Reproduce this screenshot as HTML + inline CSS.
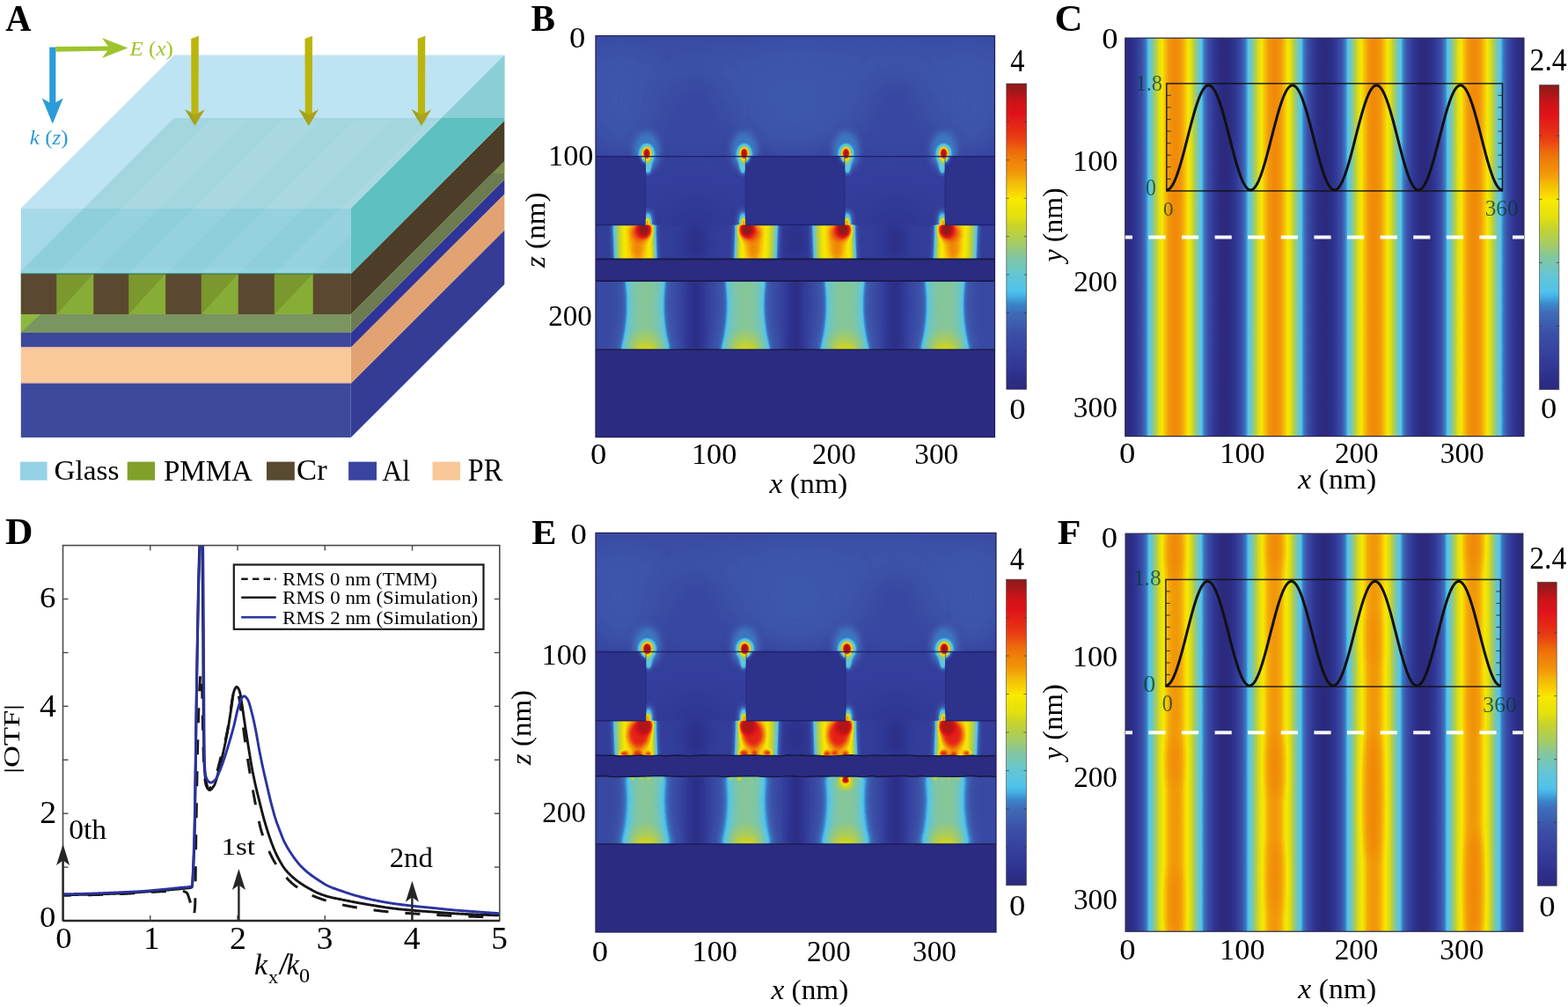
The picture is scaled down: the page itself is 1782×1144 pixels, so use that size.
<!DOCTYPE html><html><head><meta charset="utf-8"><title>Figure</title><style>html,body{margin:0;padding:0;background:#fff;}svg{display:block;}</style></head><body><svg width="1782" height="1144" viewBox="0 0 1782 1144" font-family="Liberation Serif"><defs><filter id="jet" x="0" y="0" width="1" height="1" color-interpolation-filters="sRGB"><feComponentTransfer><feFuncR type="table" tableValues="0.169 0.172 0.175 0.178 0.182 0.189 0.197 0.204 0.211 0.217 0.223 0.229 0.235 0.237 0.240 0.242 0.241 0.234 0.229 0.261 0.293 0.323 0.353 0.383 0.413 0.443 0.473 0.508 0.548 0.587 0.630 0.678 0.725 0.770 0.810 0.850 0.889 0.916 0.943 0.970 0.976 0.969 0.962 0.956 0.950 0.947 0.944 0.942 0.937 0.932 0.927 0.921 0.914 0.906 0.899 0.891 0.884 0.868 0.833 0.798 0.758 0.688 0.619 0.549"/><feFuncG type="table" tableValues="0.165 0.175 0.185 0.196 0.207 0.219 0.232 0.244 0.258 0.274 0.290 0.306 0.322 0.347 0.372 0.397 0.433 0.505 0.576 0.662 0.747 0.765 0.770 0.775 0.776 0.776 0.776 0.779 0.784 0.789 0.796 0.806 0.816 0.828 0.845 0.863 0.879 0.891 0.902 0.913 0.875 0.808 0.745 0.689 0.633 0.592 0.552 0.512 0.461 0.406 0.351 0.300 0.250 0.200 0.158 0.126 0.093 0.071 0.074 0.076 0.080 0.087 0.094 0.102"/><feFuncB type="table" tableValues="0.494 0.513 0.531 0.550 0.568 0.582 0.597 0.611 0.624 0.632 0.641 0.650 0.659 0.676 0.693 0.709 0.733 0.779 0.826 0.879 0.933 0.914 0.882 0.849 0.801 0.747 0.692 0.630 0.563 0.496 0.423 0.341 0.259 0.185 0.141 0.096 0.053 0.038 0.022 0.006 0.007 0.017 0.026 0.032 0.039 0.037 0.034 0.032 0.039 0.049 0.059 0.067 0.075 0.082 0.089 0.093 0.098 0.101 0.099 0.096 0.094 0.097 0.099 0.102"/></feComponentTransfer></filter><linearGradient id="pBglass" x1="0" y1="0" x2="0" y2="1"><stop offset="0" stop-color="#2a2a2a"/><stop offset="0.3" stop-color="#323232"/><stop offset="0.65" stop-color="#2e2e2e"/><stop offset="1" stop-color="#222222"/></linearGradient><filter id="b22" x="-200%" y="-200%" width="500%" height="500%" color-interpolation-filters="sRGB"><feGaussianBlur stdDeviation="22"/></filter><filter id="b14" x="-200%" y="-200%" width="500%" height="500%" color-interpolation-filters="sRGB"><feGaussianBlur stdDeviation="14"/></filter><linearGradient id="pBopen" x1="0" y1="0" x2="0" y2="1"><stop offset="0" stop-color="#202020"/><stop offset="1" stop-color="#181818"/></linearGradient><filter id="b9" x="-200%" y="-200%" width="500%" height="500%" color-interpolation-filters="sRGB"><feGaussianBlur stdDeviation="9"/></filter><filter id="b7" x="-200%" y="-200%" width="500%" height="500%" color-interpolation-filters="sRGB"><feGaussianBlur stdDeviation="7"/></filter><clipPath id="pBprc"><rect x="677" y="319.3" width="453.5" height="77.9"/></clipPath><clipPath id="pBpmc"><rect x="677" y="255.5" width="453.5" height="38.9"/></clipPath><filter id="b6" x="-200%" y="-200%" width="500%" height="500%" color-interpolation-filters="sRGB"><feGaussianBlur stdDeviation="6"/></filter><filter id="b2_6" x="-200%" y="-200%" width="500%" height="500%" color-interpolation-filters="sRGB"><feGaussianBlur stdDeviation="2.6"/></filter><filter id="b4" x="-200%" y="-200%" width="500%" height="500%" color-interpolation-filters="sRGB"><feGaussianBlur stdDeviation="4"/></filter><filter id="b5" x="-200%" y="-200%" width="500%" height="500%" color-interpolation-filters="sRGB"><feGaussianBlur stdDeviation="5"/></filter><filter id="b3" x="-200%" y="-200%" width="500%" height="500%" color-interpolation-filters="sRGB"><feGaussianBlur stdDeviation="3"/></filter><filter id="b1_5" x="-200%" y="-200%" width="500%" height="500%" color-interpolation-filters="sRGB"><feGaussianBlur stdDeviation="1.5"/></filter><filter id="b2" x="-200%" y="-200%" width="500%" height="500%" color-interpolation-filters="sRGB"><feGaussianBlur stdDeviation="2"/></filter><filter id="b1_1" x="-200%" y="-200%" width="500%" height="500%" color-interpolation-filters="sRGB"><feGaussianBlur stdDeviation="1.1"/></filter><clipPath id="pBclip"><rect x="677" y="40.7" width="453.5" height="455.9"/></clipPath><linearGradient id="pEglass" x1="0" y1="0" x2="0" y2="1"><stop offset="0" stop-color="#2a2a2a"/><stop offset="0.3" stop-color="#323232"/><stop offset="0.65" stop-color="#2e2e2e"/><stop offset="1" stop-color="#222222"/></linearGradient><linearGradient id="pEopen" x1="0" y1="0" x2="0" y2="1"><stop offset="0" stop-color="#202020"/><stop offset="1" stop-color="#181818"/></linearGradient><clipPath id="pEprc"><rect x="677" y="882" width="455" height="76.9"/></clipPath><clipPath id="pEpmc"><rect x="677" y="818.7" width="455" height="39.7"/></clipPath><filter id="b1_3" x="-200%" y="-200%" width="500%" height="500%" color-interpolation-filters="sRGB"><feGaussianBlur stdDeviation="1.3"/></filter><filter id="b1_8" x="-200%" y="-200%" width="500%" height="500%" color-interpolation-filters="sRGB"><feGaussianBlur stdDeviation="1.8"/></filter><filter id="b2_2" x="-200%" y="-200%" width="500%" height="500%" color-interpolation-filters="sRGB"><feGaussianBlur stdDeviation="2.2"/></filter><filter id="b1_2" x="-200%" y="-200%" width="500%" height="500%" color-interpolation-filters="sRGB"><feGaussianBlur stdDeviation="1.2"/></filter><clipPath id="pEclip"><rect x="677" y="605.4" width="455" height="453.6"/></clipPath><linearGradient id="cbBcb" x1="0" y1="0" x2="0" y2="1"><stop offset="0" stop-color="#8c1a1a"/><stop offset="0.03" stop-color="#a81719"/><stop offset="0.05" stop-color="#c41418"/><stop offset="0.07" stop-color="#d21319"/><stop offset="0.1" stop-color="#e0121a"/><stop offset="0.12" stop-color="#e31f18"/><stop offset="0.15" stop-color="#e62c16"/><stop offset="0.18" stop-color="#e94013"/><stop offset="0.2" stop-color="#ec5410"/><stop offset="0.22" stop-color="#ee6a0c"/><stop offset="0.25" stop-color="#f08008"/><stop offset="0.28" stop-color="#f19009"/><stop offset="0.3" stop-color="#f2a00a"/><stop offset="0.32" stop-color="#f4b608"/><stop offset="0.35" stop-color="#f7cf04"/><stop offset="0.38" stop-color="#faea00"/><stop offset="0.4" stop-color="#efe506"/><stop offset="0.43" stop-color="#e4e10d"/><stop offset="0.45" stop-color="#d5da1c"/><stop offset="0.47" stop-color="#c5d32e"/><stop offset="0.5" stop-color="#b3cf4c"/><stop offset="0.53" stop-color="#a0cb6d"/><stop offset="0.55" stop-color="#8fc88a"/><stop offset="0.57" stop-color="#7fc6a5"/><stop offset="0.6" stop-color="#72c6bc"/><stop offset="0.62" stop-color="#66c6d2"/><stop offset="0.65" stop-color="#5ac4e0"/><stop offset="0.68" stop-color="#4ec2ed"/><stop offset="0.7" stop-color="#42a7df"/><stop offset="0.72" stop-color="#3b87cb"/><stop offset="0.75" stop-color="#3e6ab8"/><stop offset="0.78" stop-color="#3d60b1"/><stop offset="0.8" stop-color="#3c56ab"/><stop offset="0.82" stop-color="#3a4ea6"/><stop offset="0.85" stop-color="#3848a2"/><stop offset="0.88" stop-color="#36419f"/><stop offset="0.9" stop-color="#333c99"/><stop offset="0.93" stop-color="#303794"/><stop offset="0.95" stop-color="#2e328d"/><stop offset="0.97" stop-color="#2c2e86"/><stop offset="1" stop-color="#2b2a7e"/></linearGradient><linearGradient id="cbEcb" x1="0" y1="0" x2="0" y2="1"><stop offset="0" stop-color="#8c1a1a"/><stop offset="0.03" stop-color="#a81719"/><stop offset="0.05" stop-color="#c41418"/><stop offset="0.07" stop-color="#d21319"/><stop offset="0.1" stop-color="#e0121a"/><stop offset="0.12" stop-color="#e31f18"/><stop offset="0.15" stop-color="#e62c16"/><stop offset="0.18" stop-color="#e94013"/><stop offset="0.2" stop-color="#ec5410"/><stop offset="0.22" stop-color="#ee6a0c"/><stop offset="0.25" stop-color="#f08008"/><stop offset="0.28" stop-color="#f19009"/><stop offset="0.3" stop-color="#f2a00a"/><stop offset="0.32" stop-color="#f4b608"/><stop offset="0.35" stop-color="#f7cf04"/><stop offset="0.38" stop-color="#faea00"/><stop offset="0.4" stop-color="#efe506"/><stop offset="0.43" stop-color="#e4e10d"/><stop offset="0.45" stop-color="#d5da1c"/><stop offset="0.47" stop-color="#c5d32e"/><stop offset="0.5" stop-color="#b3cf4c"/><stop offset="0.53" stop-color="#a0cb6d"/><stop offset="0.55" stop-color="#8fc88a"/><stop offset="0.57" stop-color="#7fc6a5"/><stop offset="0.6" stop-color="#72c6bc"/><stop offset="0.62" stop-color="#66c6d2"/><stop offset="0.65" stop-color="#5ac4e0"/><stop offset="0.68" stop-color="#4ec2ed"/><stop offset="0.7" stop-color="#42a7df"/><stop offset="0.72" stop-color="#3b87cb"/><stop offset="0.75" stop-color="#3e6ab8"/><stop offset="0.78" stop-color="#3d60b1"/><stop offset="0.8" stop-color="#3c56ab"/><stop offset="0.82" stop-color="#3a4ea6"/><stop offset="0.85" stop-color="#3848a2"/><stop offset="0.88" stop-color="#36419f"/><stop offset="0.9" stop-color="#333c99"/><stop offset="0.93" stop-color="#303794"/><stop offset="0.95" stop-color="#2e328d"/><stop offset="0.97" stop-color="#2c2e86"/><stop offset="1" stop-color="#2b2a7e"/></linearGradient><linearGradient id="pCst" gradientUnits="userSpaceOnUse" x1="1278.8" y1="0" x2="1392.08" y2="0" spreadMethod="repeat"><stop offset="0" stop-color="#2b2a7e"/><stop offset="0.02" stop-color="#2b2a7f"/><stop offset="0.03" stop-color="#2b2b80"/><stop offset="0.05" stop-color="#2c2d83"/><stop offset="0.07" stop-color="#2d2f88"/><stop offset="0.08" stop-color="#2d328d"/><stop offset="0.1" stop-color="#2f3692"/><stop offset="0.12" stop-color="#323b98"/><stop offset="0.13" stop-color="#35409e"/><stop offset="0.15" stop-color="#3848a2"/><stop offset="0.17" stop-color="#3b50a7"/><stop offset="0.18" stop-color="#3d5daf"/><stop offset="0.2" stop-color="#3e6ebb"/><stop offset="0.22" stop-color="#3d9ad7"/><stop offset="0.23" stop-color="#50c3eb"/><stop offset="0.25" stop-color="#63c6d7"/><stop offset="0.27" stop-color="#75c6b6"/><stop offset="0.28" stop-color="#8bc890"/><stop offset="0.3" stop-color="#a4cc65"/><stop offset="0.32" stop-color="#c0d236"/><stop offset="0.33" stop-color="#d6db1c"/><stop offset="0.35" stop-color="#e8e20b"/><stop offset="0.37" stop-color="#f5e803"/><stop offset="0.38" stop-color="#f8d903"/><stop offset="0.4" stop-color="#f6c006"/><stop offset="0.42" stop-color="#f3ad09"/><stop offset="0.43" stop-color="#f29e0a"/><stop offset="0.45" stop-color="#f19509"/><stop offset="0.47" stop-color="#f18f09"/><stop offset="0.48" stop-color="#f18b09"/><stop offset="0.5" stop-color="#f18a09"/><stop offset="0.52" stop-color="#f18b09"/><stop offset="0.53" stop-color="#f18f09"/><stop offset="0.55" stop-color="#f19509"/><stop offset="0.57" stop-color="#f29e0a"/><stop offset="0.58" stop-color="#f3ad09"/><stop offset="0.6" stop-color="#f6c006"/><stop offset="0.62" stop-color="#f8d903"/><stop offset="0.63" stop-color="#f5e803"/><stop offset="0.65" stop-color="#e8e20b"/><stop offset="0.67" stop-color="#d6db1b"/><stop offset="0.68" stop-color="#c0d236"/><stop offset="0.7" stop-color="#a4cc65"/><stop offset="0.72" stop-color="#8bc890"/><stop offset="0.73" stop-color="#75c6b6"/><stop offset="0.75" stop-color="#63c6d7"/><stop offset="0.77" stop-color="#50c3eb"/><stop offset="0.78" stop-color="#3d9ad7"/><stop offset="0.8" stop-color="#3e6ebb"/><stop offset="0.82" stop-color="#3d5daf"/><stop offset="0.83" stop-color="#3b50a7"/><stop offset="0.85" stop-color="#3848a2"/><stop offset="0.87" stop-color="#35409e"/><stop offset="0.88" stop-color="#323b98"/><stop offset="0.9" stop-color="#2f3692"/><stop offset="0.92" stop-color="#2d328d"/><stop offset="0.93" stop-color="#2d2f88"/><stop offset="0.95" stop-color="#2c2d83"/><stop offset="0.97" stop-color="#2b2b80"/><stop offset="0.98" stop-color="#2b2a7f"/><stop offset="1" stop-color="#2b2a7e"/></linearGradient><linearGradient id="pFst" gradientUnits="userSpaceOnUse" x1="1279.1" y1="0" x2="1392.02" y2="0" spreadMethod="repeat"><stop offset="0" stop-color="#2b2a7e"/><stop offset="0.02" stop-color="#2b2a7f"/><stop offset="0.03" stop-color="#2b2b80"/><stop offset="0.05" stop-color="#2c2d83"/><stop offset="0.07" stop-color="#2d2f87"/><stop offset="0.08" stop-color="#2d328c"/><stop offset="0.1" stop-color="#2f3692"/><stop offset="0.12" stop-color="#323a97"/><stop offset="0.13" stop-color="#35409d"/><stop offset="0.15" stop-color="#3847a2"/><stop offset="0.17" stop-color="#3b4fa6"/><stop offset="0.18" stop-color="#3d5aae"/><stop offset="0.2" stop-color="#3e68b7"/><stop offset="0.22" stop-color="#3a8fd0"/><stop offset="0.23" stop-color="#4bc0ef"/><stop offset="0.25" stop-color="#5dc5dd"/><stop offset="0.27" stop-color="#6fc6c2"/><stop offset="0.28" stop-color="#82c79f"/><stop offset="0.3" stop-color="#99ca78"/><stop offset="0.32" stop-color="#b3cf4b"/><stop offset="0.33" stop-color="#cbd628"/><stop offset="0.35" stop-color="#dfdf11"/><stop offset="0.37" stop-color="#ede408"/><stop offset="0.38" stop-color="#f8e901"/><stop offset="0.4" stop-color="#f8d503"/><stop offset="0.42" stop-color="#f6c006"/><stop offset="0.43" stop-color="#f4b108"/><stop offset="0.45" stop-color="#f3a509"/><stop offset="0.47" stop-color="#f29d0a"/><stop offset="0.48" stop-color="#f29a0a"/><stop offset="0.5" stop-color="#f2980a"/><stop offset="0.52" stop-color="#f29a0a"/><stop offset="0.53" stop-color="#f29d0a"/><stop offset="0.55" stop-color="#f3a509"/><stop offset="0.57" stop-color="#f4b108"/><stop offset="0.58" stop-color="#f6c006"/><stop offset="0.6" stop-color="#f8d503"/><stop offset="0.62" stop-color="#f8e901"/><stop offset="0.63" stop-color="#ede408"/><stop offset="0.65" stop-color="#dfdf11"/><stop offset="0.67" stop-color="#cbd628"/><stop offset="0.68" stop-color="#b3cf4b"/><stop offset="0.7" stop-color="#99ca78"/><stop offset="0.72" stop-color="#82c79f"/><stop offset="0.73" stop-color="#6fc6c2"/><stop offset="0.75" stop-color="#5dc5dd"/><stop offset="0.77" stop-color="#4bc0ef"/><stop offset="0.78" stop-color="#3a8fd0"/><stop offset="0.8" stop-color="#3e68b7"/><stop offset="0.82" stop-color="#3d5aae"/><stop offset="0.83" stop-color="#3b4fa6"/><stop offset="0.85" stop-color="#3847a2"/><stop offset="0.87" stop-color="#35409d"/><stop offset="0.88" stop-color="#323a97"/><stop offset="0.9" stop-color="#2f3692"/><stop offset="0.92" stop-color="#2d328c"/><stop offset="0.93" stop-color="#2d2f87"/><stop offset="0.95" stop-color="#2c2d83"/><stop offset="0.97" stop-color="#2b2b80"/><stop offset="0.98" stop-color="#2b2a7f"/><stop offset="1" stop-color="#2b2a7e"/></linearGradient><linearGradient id="pFgs" gradientUnits="userSpaceOnUse" x1="1279.1" y1="0" x2="1392.02" y2="0" spreadMethod="repeat"><stop offset="0" stop-color="#000000"/><stop offset="0.02" stop-color="#000000"/><stop offset="0.03" stop-color="#020202"/><stop offset="0.05" stop-color="#040404"/><stop offset="0.07" stop-color="#080808"/><stop offset="0.08" stop-color="#0c0c0c"/><stop offset="0.1" stop-color="#111111"/><stop offset="0.12" stop-color="#171717"/><stop offset="0.13" stop-color="#1e1e1e"/><stop offset="0.15" stop-color="#252525"/><stop offset="0.17" stop-color="#2d2d2d"/><stop offset="0.18" stop-color="#363636"/><stop offset="0.2" stop-color="#3f3f3f"/><stop offset="0.22" stop-color="#484848"/><stop offset="0.23" stop-color="#515151"/><stop offset="0.25" stop-color="#5b5b5b"/><stop offset="0.27" stop-color="#646464"/><stop offset="0.28" stop-color="#6e6e6e"/><stop offset="0.3" stop-color="#777777"/><stop offset="0.32" stop-color="#808080"/><stop offset="0.33" stop-color="#888888"/><stop offset="0.35" stop-color="#909090"/><stop offset="0.37" stop-color="#989898"/><stop offset="0.38" stop-color="#9e9e9e"/><stop offset="0.4" stop-color="#a4a4a4"/><stop offset="0.42" stop-color="#a9a9a9"/><stop offset="0.43" stop-color="#aeaeae"/><stop offset="0.45" stop-color="#b1b1b1"/><stop offset="0.47" stop-color="#b4b4b4"/><stop offset="0.48" stop-color="#b5b5b5"/><stop offset="0.5" stop-color="#b6b6b6"/><stop offset="0.52" stop-color="#b5b5b5"/><stop offset="0.53" stop-color="#b4b4b4"/><stop offset="0.55" stop-color="#b1b1b1"/><stop offset="0.57" stop-color="#aeaeae"/><stop offset="0.58" stop-color="#a9a9a9"/><stop offset="0.6" stop-color="#a4a4a4"/><stop offset="0.62" stop-color="#9e9e9e"/><stop offset="0.63" stop-color="#989898"/><stop offset="0.65" stop-color="#909090"/><stop offset="0.67" stop-color="#888888"/><stop offset="0.68" stop-color="#808080"/><stop offset="0.7" stop-color="#777777"/><stop offset="0.72" stop-color="#6e6e6e"/><stop offset="0.73" stop-color="#646464"/><stop offset="0.75" stop-color="#5b5b5b"/><stop offset="0.77" stop-color="#515151"/><stop offset="0.78" stop-color="#484848"/><stop offset="0.8" stop-color="#3f3f3f"/><stop offset="0.82" stop-color="#363636"/><stop offset="0.83" stop-color="#2d2d2d"/><stop offset="0.85" stop-color="#252525"/><stop offset="0.87" stop-color="#1e1e1e"/><stop offset="0.88" stop-color="#171717"/><stop offset="0.9" stop-color="#111111"/><stop offset="0.92" stop-color="#0c0c0c"/><stop offset="0.93" stop-color="#080808"/><stop offset="0.95" stop-color="#040404"/><stop offset="0.97" stop-color="#020202"/><stop offset="0.98" stop-color="#000000"/><stop offset="1" stop-color="#000000"/></linearGradient><clipPath id="pFclip"><rect x="1279.1" y="606.2" width="451.7" height="452"/></clipPath><linearGradient id="cbCcb" x1="0" y1="0" x2="0" y2="1"><stop offset="0" stop-color="#8c1a1a"/><stop offset="0.03" stop-color="#a81719"/><stop offset="0.05" stop-color="#c41418"/><stop offset="0.07" stop-color="#d21319"/><stop offset="0.1" stop-color="#e0121a"/><stop offset="0.12" stop-color="#e31f18"/><stop offset="0.15" stop-color="#e62c16"/><stop offset="0.18" stop-color="#e94013"/><stop offset="0.2" stop-color="#ec5410"/><stop offset="0.22" stop-color="#ee6a0c"/><stop offset="0.25" stop-color="#f08008"/><stop offset="0.28" stop-color="#f19009"/><stop offset="0.3" stop-color="#f2a00a"/><stop offset="0.32" stop-color="#f4b608"/><stop offset="0.35" stop-color="#f7cf04"/><stop offset="0.38" stop-color="#faea00"/><stop offset="0.4" stop-color="#efe506"/><stop offset="0.43" stop-color="#e4e10d"/><stop offset="0.45" stop-color="#d5da1c"/><stop offset="0.47" stop-color="#c5d32e"/><stop offset="0.5" stop-color="#b3cf4c"/><stop offset="0.53" stop-color="#a0cb6d"/><stop offset="0.55" stop-color="#8fc88a"/><stop offset="0.57" stop-color="#7fc6a5"/><stop offset="0.6" stop-color="#72c6bc"/><stop offset="0.62" stop-color="#66c6d2"/><stop offset="0.65" stop-color="#5ac4e0"/><stop offset="0.68" stop-color="#4ec2ed"/><stop offset="0.7" stop-color="#42a7df"/><stop offset="0.72" stop-color="#3b87cb"/><stop offset="0.75" stop-color="#3e6ab8"/><stop offset="0.78" stop-color="#3d60b1"/><stop offset="0.8" stop-color="#3c56ab"/><stop offset="0.82" stop-color="#3a4ea6"/><stop offset="0.85" stop-color="#3848a2"/><stop offset="0.88" stop-color="#36419f"/><stop offset="0.9" stop-color="#333c99"/><stop offset="0.93" stop-color="#303794"/><stop offset="0.95" stop-color="#2e328d"/><stop offset="0.97" stop-color="#2c2e86"/><stop offset="1" stop-color="#2b2a7e"/></linearGradient><linearGradient id="cbFcb" x1="0" y1="0" x2="0" y2="1"><stop offset="0" stop-color="#8c1a1a"/><stop offset="0.03" stop-color="#a81719"/><stop offset="0.05" stop-color="#c41418"/><stop offset="0.07" stop-color="#d21319"/><stop offset="0.1" stop-color="#e0121a"/><stop offset="0.12" stop-color="#e31f18"/><stop offset="0.15" stop-color="#e62c16"/><stop offset="0.18" stop-color="#e94013"/><stop offset="0.2" stop-color="#ec5410"/><stop offset="0.22" stop-color="#ee6a0c"/><stop offset="0.25" stop-color="#f08008"/><stop offset="0.28" stop-color="#f19009"/><stop offset="0.3" stop-color="#f2a00a"/><stop offset="0.32" stop-color="#f4b608"/><stop offset="0.35" stop-color="#f7cf04"/><stop offset="0.38" stop-color="#faea00"/><stop offset="0.4" stop-color="#efe506"/><stop offset="0.43" stop-color="#e4e10d"/><stop offset="0.45" stop-color="#d5da1c"/><stop offset="0.47" stop-color="#c5d32e"/><stop offset="0.5" stop-color="#b3cf4c"/><stop offset="0.53" stop-color="#a0cb6d"/><stop offset="0.55" stop-color="#8fc88a"/><stop offset="0.57" stop-color="#7fc6a5"/><stop offset="0.6" stop-color="#72c6bc"/><stop offset="0.62" stop-color="#66c6d2"/><stop offset="0.65" stop-color="#5ac4e0"/><stop offset="0.68" stop-color="#4ec2ed"/><stop offset="0.7" stop-color="#42a7df"/><stop offset="0.72" stop-color="#3b87cb"/><stop offset="0.75" stop-color="#3e6ab8"/><stop offset="0.78" stop-color="#3d60b1"/><stop offset="0.8" stop-color="#3c56ab"/><stop offset="0.82" stop-color="#3a4ea6"/><stop offset="0.85" stop-color="#3848a2"/><stop offset="0.88" stop-color="#36419f"/><stop offset="0.9" stop-color="#333c99"/><stop offset="0.93" stop-color="#303794"/><stop offset="0.95" stop-color="#2e328d"/><stop offset="0.97" stop-color="#2c2e86"/><stop offset="1" stop-color="#2b2a7e"/></linearGradient><clipPath id="dclip"><rect x="71.5" y="619.6" width="496.3" height="426.4"/></clipPath></defs><rect width="1782" height="1144" fill="#fff"/><g id="panelA"><polygon points="398.8,435.5 573.3,261.5 573.3,323 398.8,497" fill="#343c96" />
<polygon points="398.8,394.5 573.3,220.5 573.3,261.5 398.8,435.5" fill="#e2a272" />
<polygon points="398.8,378 573.3,204 573.3,220.5 398.8,394.5" fill="#2f3597" />
<polygon points="398.8,357 573.3,183 573.3,204 398.8,378" fill="#6c7b50" />
<polygon points="533.3,183 573.3,183 573.3,197 547.3,197" fill="#8a9a45" opacity="0.55"/>
<polygon points="398.8,311 573.3,137 573.3,183 398.8,357" fill="#4b3d27" />
<polygon points="398.8,236.5 573.3,62.5 573.3,137 398.8,311" fill="#5ec0c1" />
<polygon points="501.3,134 573.3,62.5 573.3,134" fill="#8bcfd6" />
<polygon points="23.8,236.5 198.3,62.5 573.3,62.5 398.8,236.5" fill="#bee3f2" />
<polygon points="95.3,236.5 197.8,134 501.3,134 398.8,236.5" fill="#a3d6df" />
<rect x="23.8" y="236.5" width="375" height="74.5" fill="#a7dae8"/>
<polygon points="95.3,236.5 398.8,236.5 398.8,311 23.8,311 23.8,308" fill="#8ecfdb" />
<rect x="23.8" y="305" width="375" height="5" fill="#93d5e3" opacity="0.7"/>
<clipPath id="glassTeal"><polygon points="95.3,236.5 197.8,134 501.3,134 398.8,236.5 398.8,311 23.8,311 23.8,308"/></clipPath>
<g clip-path="url(#glassTeal)" opacity="0.07"><polygon points="64.2,311 106.3,311 280.8,137 238.7,137" fill="#ffffff" /><polygon points="146.2,311 188.2,311 362.7,137 320.7,137" fill="#ffffff" /><polygon points="228.8,311 270.8,311 445.3,137 403.3,137" fill="#ffffff" /><polygon points="311.8,311 355.8,311 530.3,137 486.3,137" fill="#ffffff" /></g>
<rect x="23.8" y="311" width="375" height="46" fill="#7a982d"/>
<polygon points="106.3,311 106.3,357 64.2,357" fill="#88ad37" />
<polygon points="188.2,311 188.2,357 146.2,357" fill="#88ad37" />
<polygon points="270.8,311 270.8,357 228.8,357" fill="#88ad37" />
<polygon points="355.8,311 355.8,357 311.8,357" fill="#88ad37" />
<rect x="23.8" y="311" width="40.4" height="46" fill="#5a4930"/>
<rect x="106.3" y="311" width="39.9" height="46" fill="#5a4930"/>
<rect x="188.2" y="311" width="40.6" height="46" fill="#5a4930"/>
<rect x="270.8" y="311" width="41" height="46" fill="#5a4930"/>
<rect x="355.8" y="311" width="43" height="46" fill="#5a4930"/>
<rect x="23.8" y="310.4" width="375" height="1.2" fill="#2f6a55" opacity="0.8"/>
<rect x="23.8" y="357" width="375" height="21" fill="#7a9560"/>
<polygon points="23.8,357 45.8,357 23.8,378" fill="#8db840" />
<rect x="23.8" y="378" width="375" height="16.5" fill="#3c4899"/>
<rect x="23.8" y="394.5" width="375" height="41" fill="#f8c99a"/>
<rect x="23.8" y="394.5" width="375" height="1" fill="#f4a3b4" opacity="0.8"/>
<rect x="23.8" y="434.5" width="375" height="1" fill="#f4a3b4" opacity="0.8"/>
<rect x="23.8" y="435.5" width="375" height="61.5" fill="#3d4a9b"/>
<rect x="56.2" y="53.6" width="7.2" height="70" fill="#2b9bd9"/>
<polygon points="59.8,140.8 47.7,111.5 59.8,118.5 71.7,111.5" fill="#2b9bd9" />
<polygon points="63.2,53 128,52.4 128,57.4 63.2,58.8" fill="#9dc42a" />
<polygon points="145.4,54.4 115.9,43.1 124.4,54.8 115.9,66" fill="#9dc42a" />
<polygon points="217.2,44 225.8,40.8 225.5,133 217.5,133" fill="#bbb60c" />
<polygon points="221.5,143 210.2,124.2 221.5,130.5 232.8,124.2" fill="#aba31a" />
<polygon points="221.5,143 210.2,124.2 216.5,127" fill="#8fa424" opacity="0.5"/>
<polygon points="346.5,44 355.1,40.8 354.8,133 346.8,133" fill="#bbb60c" />
<polygon points="350.8,143 339.5,124.2 350.8,130.5 362.1,124.2" fill="#aba31a" />
<polygon points="350.8,143 339.5,124.2 345.8,127" fill="#8fa424" opacity="0.5"/>
<polygon points="474.7,44 483.3,40.8 483,133 475,133" fill="#bbb60c" />
<polygon points="479,143 467.7,124.2 479,130.5 490.3,124.2" fill="#aba31a" />
<polygon points="479,143 467.7,124.2 474,127" fill="#8fa424" opacity="0.5"/>
<rect x="23" y="524.6" width="30.6" height="21" fill="#96d2e6"/>
<rect x="144.7" y="524.6" width="31.3" height="21" fill="#80a02a"/>
<rect x="303" y="524.6" width="31.8" height="21" fill="#574a30"/>
<rect x="396.1" y="524.6" width="31.9" height="21" fill="#3a44a0"/>
<rect x="491.5" y="524.6" width="31.5" height="21" fill="#f8c898"/></g>
<g id="pB"><g clip-path="url(#pBclip)"><g filter="url(#jet)"><rect x="675" y="38.7" width="457.5" height="459.9" fill="#1a1a1a" /><rect x="677" y="40.7" width="453.5" height="138.1" fill="url(#pBglass)" /><ellipse cx="963.75" cy="95.7" rx="170" ry="40" fill="#343434" filter="url(#b22)"/><ellipse cx="705.25" cy="114.25" rx="32.25" ry="58.55" fill="#343434" filter="url(#b14)"/><ellipse cx="903.65" cy="114.25" rx="60.35" ry="58.55" fill="#343434" filter="url(#b14)"/><ellipse cx="1102.25" cy="114.25" rx="32.25" ry="58.55" fill="#343434" filter="url(#b14)"/><ellipse cx="790.4" cy="134.25" rx="30" ry="48.55" fill="#262626" filter="url(#b14)"/><ellipse cx="1017" cy="134.25" rx="30" ry="48.55" fill="#262626" filter="url(#b14)"/><rect x="677" y="177.8" width="453.5" height="78.7" fill="url(#pBopen)" /><ellipse cx="790.4" cy="249.5" rx="26" ry="24" fill="#161616" filter="url(#b9)"/><ellipse cx="1017" cy="249.5" rx="26" ry="24" fill="#161616" filter="url(#b9)"/><rect x="677" y="255.5" width="453.5" height="39.9" fill="#1b1b1b" /><rect x="778.4" y="255.5" width="24" height="38.9" fill="#0a0a0a" filter="url(#b7)"/><rect x="891.65" y="255.5" width="24" height="38.9" fill="#0a0a0a" filter="url(#b7)"/><rect x="1005" y="255.5" width="24" height="38.9" fill="#0a0a0a" filter="url(#b7)"/><rect x="677" y="318.3" width="453.5" height="79.9" fill="#282828" /><rect x="780.4" y="309.3" width="20" height="97.9" fill="#050505" filter="url(#b7)"/><rect x="893.65" y="309.3" width="20" height="97.9" fill="#050505" filter="url(#b7)"/><rect x="1007" y="309.3" width="20" height="97.9" fill="#050505" filter="url(#b7)"/><g clip-path="url(#pBprc)"><path d="M702.5,316.3 L764.5,316.3 Q757.5,358.25 770.5,400.2 L696.5,400.2 Q709.5,358.25 702.5,316.3 Z" fill="#3b3b3b" filter="url(#b6)"/><path d="M816.3,316.3 L878.3,316.3 Q871.3,358.25 884.3,400.2 L810.3,400.2 Q823.3,358.25 816.3,316.3 Z" fill="#3b3b3b" filter="url(#b6)"/><path d="M929,316.3 L991,316.3 Q984,358.25 997,400.2 L923,400.2 Q936,358.25 929,316.3 Z" fill="#3b3b3b" filter="url(#b6)"/><path d="M1043,316.3 L1105,316.3 Q1098,358.25 1111,400.2 L1037,400.2 Q1050,358.25 1043,316.3 Z" fill="#3b3b3b" filter="url(#b6)"/><path d="M710.5,316.3 L756.5,316.3 Q749.75,358.25 762,400.2 L705,400.2 Q717.25,358.25 710.5,316.3 Z" fill="#636363" filter="url(#b2_6)"/><path d="M718.5,316.3 L748.5,316.3 Q742.5,358.25 752.5,400.2 L714.5,400.2 Q724.5,358.25 718.5,316.3 Z" fill="#6f6f6f" filter="url(#b4)"/><ellipse cx="733.5" cy="395.2" rx="18" ry="18" fill="#7c7c7c" filter="url(#b5)"/><ellipse cx="733.5" cy="396.2" rx="12" ry="6" fill="#8a8a8a" filter="url(#b3)"/><path d="M824.3,316.3 L870.3,316.3 Q863.55,358.25 875.8,400.2 L818.8,400.2 Q831.05,358.25 824.3,316.3 Z" fill="#636363" filter="url(#b2_6)"/><path d="M832.3,316.3 L862.3,316.3 Q856.3,358.25 866.3,400.2 L828.3,400.2 Q838.3,358.25 832.3,316.3 Z" fill="#6f6f6f" filter="url(#b4)"/><ellipse cx="847.3" cy="395.2" rx="18" ry="18" fill="#7c7c7c" filter="url(#b5)"/><ellipse cx="847.3" cy="396.2" rx="12" ry="6" fill="#8a8a8a" filter="url(#b3)"/><path d="M937,316.3 L983,316.3 Q976.25,358.25 988.5,400.2 L931.5,400.2 Q943.75,358.25 937,316.3 Z" fill="#636363" filter="url(#b2_6)"/><path d="M945,316.3 L975,316.3 Q969,358.25 979,400.2 L941,400.2 Q951,358.25 945,316.3 Z" fill="#6f6f6f" filter="url(#b4)"/><ellipse cx="960" cy="395.2" rx="18" ry="18" fill="#7c7c7c" filter="url(#b5)"/><ellipse cx="960" cy="396.2" rx="12" ry="6" fill="#8a8a8a" filter="url(#b3)"/><path d="M1051,316.3 L1097,316.3 Q1090.25,358.25 1102.5,400.2 L1045.5,400.2 Q1057.75,358.25 1051,316.3 Z" fill="#636363" filter="url(#b2_6)"/><path d="M1059,316.3 L1089,316.3 Q1083,358.25 1093,400.2 L1055,400.2 Q1065,358.25 1059,316.3 Z" fill="#6f6f6f" filter="url(#b4)"/><ellipse cx="1074" cy="395.2" rx="18" ry="18" fill="#7c7c7c" filter="url(#b5)"/><ellipse cx="1074" cy="396.2" rx="12" ry="6" fill="#8a8a8a" filter="url(#b3)"/></g><ellipse cx="736.5" cy="251.5" rx="5" ry="13" fill="#6b6b6b" filter="url(#b3)"/><ellipse cx="735.7" cy="253" rx="3" ry="5.5" fill="#b8b8b8" filter="url(#b1_5)"/><ellipse cx="844.3" cy="251.5" rx="5" ry="13" fill="#6b6b6b" filter="url(#b3)"/><ellipse cx="845.1" cy="253" rx="3" ry="5.5" fill="#b8b8b8" filter="url(#b1_5)"/><ellipse cx="963" cy="251.5" rx="5" ry="13" fill="#6b6b6b" filter="url(#b3)"/><ellipse cx="962.2" cy="253" rx="3" ry="5.5" fill="#b8b8b8" filter="url(#b1_5)"/><ellipse cx="1071" cy="251.5" rx="5" ry="13" fill="#6b6b6b" filter="url(#b3)"/><ellipse cx="1071.8" cy="253" rx="3" ry="5.5" fill="#b8b8b8" filter="url(#b1_5)"/><g clip-path="url(#pBpmc)"><polygon points="696.5,247.5 744.5,247.5 746.5,302.4 698.5,302.4" fill="#808080" filter="url(#b3)"/><polygon points="706.5,247.5 739.5,247.5 741.5,302.4 707.5,302.4" fill="#a3a3a3" filter="url(#b3)"/><ellipse cx="724.5" cy="277.5" rx="7" ry="18" fill="#bdbdbd" filter="url(#b3)"/><ellipse cx="721.5" cy="264.5" rx="5" ry="8" fill="#c4c4c4" filter="url(#b3)"/><ellipse cx="729.5" cy="263.5" rx="9" ry="10" fill="#d9d9d9" filter="url(#b3)"/><ellipse cx="732" cy="260.5" rx="8" ry="9" fill="#fefefe" filter="url(#b2)"/><polygon points="836.3,247.5 884.3,247.5 882.3,302.4 834.3,302.4" fill="#808080" filter="url(#b3)"/><polygon points="841.3,247.5 874.3,247.5 872.3,302.4 840.3,302.4" fill="#a3a3a3" filter="url(#b3)"/><ellipse cx="856.3" cy="277.5" rx="7" ry="18" fill="#bdbdbd" filter="url(#b3)"/><ellipse cx="859.3" cy="264.5" rx="5" ry="8" fill="#c4c4c4" filter="url(#b3)"/><ellipse cx="851.3" cy="263.5" rx="9" ry="10" fill="#d9d9d9" filter="url(#b3)"/><ellipse cx="848.8" cy="260.5" rx="8" ry="9" fill="#fefefe" filter="url(#b2)"/><polygon points="923,247.5 971,247.5 973,302.4 925,302.4" fill="#808080" filter="url(#b3)"/><polygon points="933,247.5 966,247.5 968,302.4 934,302.4" fill="#a3a3a3" filter="url(#b3)"/><ellipse cx="951" cy="277.5" rx="7" ry="18" fill="#bdbdbd" filter="url(#b3)"/><ellipse cx="948" cy="264.5" rx="5" ry="8" fill="#c4c4c4" filter="url(#b3)"/><ellipse cx="956" cy="263.5" rx="9" ry="10" fill="#d9d9d9" filter="url(#b3)"/><ellipse cx="958.5" cy="260.5" rx="8" ry="9" fill="#fefefe" filter="url(#b2)"/><polygon points="1063,247.5 1111,247.5 1109,302.4 1061,302.4" fill="#808080" filter="url(#b3)"/><polygon points="1068,247.5 1101,247.5 1099,302.4 1067,302.4" fill="#a3a3a3" filter="url(#b3)"/><ellipse cx="1083" cy="277.5" rx="7" ry="18" fill="#bdbdbd" filter="url(#b3)"/><ellipse cx="1086" cy="264.5" rx="5" ry="8" fill="#c4c4c4" filter="url(#b3)"/><ellipse cx="1078" cy="263.5" rx="9" ry="10" fill="#d9d9d9" filter="url(#b3)"/><ellipse cx="1075.5" cy="260.5" rx="8" ry="9" fill="#fefefe" filter="url(#b2)"/></g><ellipse cx="735" cy="172.8" rx="12" ry="19" fill="#5e5e5e" filter="url(#b4)"/><ellipse cx="735" cy="169.8" rx="15" ry="22" fill="#424242" filter="url(#b5)"/><ellipse cx="736.5" cy="189.8" rx="3" ry="9" fill="#6b6b6b" filter="url(#b2)"/><ellipse cx="845.8" cy="172.8" rx="12" ry="19" fill="#5e5e5e" filter="url(#b4)"/><ellipse cx="845.8" cy="169.8" rx="15" ry="22" fill="#424242" filter="url(#b5)"/><ellipse cx="844.3" cy="189.8" rx="3" ry="9" fill="#6b6b6b" filter="url(#b2)"/><ellipse cx="961.5" cy="172.8" rx="12" ry="19" fill="#5e5e5e" filter="url(#b4)"/><ellipse cx="961.5" cy="169.8" rx="15" ry="22" fill="#424242" filter="url(#b5)"/><ellipse cx="963" cy="189.8" rx="3" ry="9" fill="#6b6b6b" filter="url(#b2)"/><ellipse cx="1072.5" cy="172.8" rx="12" ry="19" fill="#5e5e5e" filter="url(#b4)"/><ellipse cx="1072.5" cy="169.8" rx="15" ry="22" fill="#424242" filter="url(#b5)"/><ellipse cx="1071" cy="189.8" rx="3" ry="9" fill="#6b6b6b" filter="url(#b2)"/><rect x="677" y="177.8" width="56.5" height="77.7" fill="#0d0d0d" /><rect x="847.3" y="177.8" width="112.7" height="77.7" fill="#0d0d0d" /><rect x="1074" y="177.8" width="56.5" height="77.7" fill="#0d0d0d" /><ellipse cx="735" cy="175.3" rx="6.5" ry="10" fill="#9e9e9e" filter="url(#b2)"/><ellipse cx="735" cy="174.3" rx="3.6" ry="5.5" fill="#fafafa" filter="url(#b1_1)"/><ellipse cx="845.8" cy="175.3" rx="6.5" ry="10" fill="#9e9e9e" filter="url(#b2)"/><ellipse cx="845.8" cy="174.3" rx="3.6" ry="5.5" fill="#fafafa" filter="url(#b1_1)"/><ellipse cx="961.5" cy="175.3" rx="6.5" ry="10" fill="#9e9e9e" filter="url(#b2)"/><ellipse cx="961.5" cy="174.3" rx="3.6" ry="5.5" fill="#fafafa" filter="url(#b1_1)"/><ellipse cx="1072.5" cy="175.3" rx="6.5" ry="10" fill="#9e9e9e" filter="url(#b2)"/><ellipse cx="1072.5" cy="174.3" rx="3.6" ry="5.5" fill="#fafafa" filter="url(#b1_1)"/><rect x="677" y="294.4" width="453.5" height="24.9" fill="#030303" /><rect x="677" y="397.2" width="453.5" height="99.4" fill="#030303" /></g><line x1="677" y1="177.8" x2="1130.5" y2="177.8" stroke="#1e2068" stroke-width="1.4" opacity="0.9"/><line x1="677" y1="255.5" x2="733.5" y2="255.5" stroke="#1e2068" stroke-width="1.4" opacity="0.9"/><line x1="733.5" y1="177.8" x2="733.5" y2="255.5" stroke="#232570" stroke-width="1" opacity="0.6"/><line x1="847.3" y1="255.5" x2="960" y2="255.5" stroke="#1e2068" stroke-width="1.4" opacity="0.9"/><line x1="847.3" y1="177.8" x2="847.3" y2="255.5" stroke="#232570" stroke-width="1" opacity="0.6"/><line x1="960" y1="177.8" x2="960" y2="255.5" stroke="#232570" stroke-width="1" opacity="0.6"/><line x1="1074" y1="255.5" x2="1130.5" y2="255.5" stroke="#1e2068" stroke-width="1.4" opacity="0.9"/><line x1="1074" y1="177.8" x2="1074" y2="255.5" stroke="#232570" stroke-width="1" opacity="0.6"/><line x1="677" y1="294.4" x2="1130.5" y2="294.4" stroke="#17173f" stroke-width="1.6" opacity="1"/><line x1="677" y1="319.3" x2="1130.5" y2="319.3" stroke="#17173f" stroke-width="1.6" opacity="1"/><line x1="677" y1="397.2" x2="1130.5" y2="397.2" stroke="#1b1b48" stroke-width="1.4" opacity="1"/></g><rect x="677" y="40.7" width="453.5" height="455.9" fill="none" stroke="#1f1d5c" stroke-width="1.2"/></g>
<g id="pE"><g clip-path="url(#pEclip)"><g filter="url(#jet)"><rect x="675" y="603.4" width="459" height="457.6" fill="#1a1a1a" /><rect x="677" y="605.4" width="455" height="136.1" fill="url(#pEglass)" /><ellipse cx="964.5" cy="660.4" rx="170" ry="40" fill="#343434" filter="url(#b22)"/><ellipse cx="705.5" cy="677.95" rx="32.5" ry="57.55" fill="#343434" filter="url(#b14)"/><ellipse cx="904.5" cy="677.95" rx="60.5" ry="57.55" fill="#343434" filter="url(#b14)"/><ellipse cx="1103.3" cy="677.95" rx="32.7" ry="57.55" fill="#343434" filter="url(#b14)"/><ellipse cx="791" cy="697.95" rx="30" ry="47.55" fill="#262626" filter="url(#b14)"/><ellipse cx="1017.8" cy="697.95" rx="30" ry="47.55" fill="#262626" filter="url(#b14)"/><rect x="677" y="740.5" width="455" height="79.2" fill="url(#pEopen)" /><ellipse cx="791" cy="812.7" rx="26" ry="24" fill="#161616" filter="url(#b9)"/><ellipse cx="1017.8" cy="812.7" rx="26" ry="24" fill="#161616" filter="url(#b9)"/><rect x="677" y="818.7" width="455" height="40.7" fill="#1b1b1b" /><rect x="779" y="818.7" width="24" height="39.7" fill="#0a0a0a" filter="url(#b7)"/><rect x="892.5" y="818.7" width="24" height="39.7" fill="#0a0a0a" filter="url(#b7)"/><rect x="1005.8" y="818.7" width="24" height="39.7" fill="#0a0a0a" filter="url(#b7)"/><rect x="677" y="881" width="455" height="78.9" fill="#282828" /><rect x="781" y="872" width="20" height="96.9" fill="#050505" filter="url(#b7)"/><rect x="894.5" y="872" width="20" height="96.9" fill="#050505" filter="url(#b7)"/><rect x="1007.8" y="872" width="20" height="96.9" fill="#050505" filter="url(#b7)"/><g clip-path="url(#pEprc)"><path d="M703,879 L765,879 Q758,920.45 771,961.9 L697,961.9 Q710,920.45 703,879 Z" fill="#3b3b3b" filter="url(#b6)"/><path d="M817,879 L879,879 Q872,920.45 885,961.9 L811,961.9 Q824,920.45 817,879 Z" fill="#3b3b3b" filter="url(#b6)"/><path d="M930,879 L992,879 Q985,920.45 998,961.9 L924,961.9 Q937,920.45 930,879 Z" fill="#3b3b3b" filter="url(#b6)"/><path d="M1043.6,879 L1105.6,879 Q1098.6,920.45 1111.6,961.9 L1037.6,961.9 Q1050.6,920.45 1043.6,879 Z" fill="#3b3b3b" filter="url(#b6)"/><path d="M711,879 L757,879 Q750.25,920.45 762.5,961.9 L705.5,961.9 Q717.75,920.45 711,879 Z" fill="#636363" filter="url(#b4)"/><path d="M719,879 L749,879 Q743,920.45 753,961.9 L715,961.9 Q725,920.45 719,879 Z" fill="#6f6f6f" filter="url(#b4)"/><ellipse cx="734" cy="956.9" rx="18" ry="18" fill="#7c7c7c" filter="url(#b5)"/><ellipse cx="734" cy="957.9" rx="12" ry="6" fill="#8a8a8a" filter="url(#b3)"/><ellipse cx="718.71" cy="884.5" rx="2.34" ry="1.8" fill="#919191" filter="url(#b1_3)"/><ellipse cx="728.79" cy="884.5" rx="2.26" ry="1.8" fill="#868686" filter="url(#b1_3)"/><ellipse cx="737.11" cy="884.5" rx="2.27" ry="1.8" fill="#888888" filter="url(#b1_3)"/><ellipse cx="750.76" cy="884.5" rx="1.64" ry="1.8" fill="#7d7d7d" filter="url(#b1_3)"/><path d="M825,879 L871,879 Q864.25,920.45 876.5,961.9 L819.5,961.9 Q831.75,920.45 825,879 Z" fill="#636363" filter="url(#b4)"/><path d="M833,879 L863,879 Q857,920.45 867,961.9 L829,961.9 Q839,920.45 833,879 Z" fill="#6f6f6f" filter="url(#b4)"/><ellipse cx="848" cy="956.9" rx="18" ry="18" fill="#7c7c7c" filter="url(#b5)"/><ellipse cx="848" cy="957.9" rx="12" ry="6" fill="#8a8a8a" filter="url(#b3)"/><ellipse cx="830.54" cy="884.5" rx="2.71" ry="1.8" fill="#8a8a8a" filter="url(#b1_3)"/><ellipse cx="840.25" cy="884.5" rx="2.97" ry="1.8" fill="#939393" filter="url(#b1_3)"/><ellipse cx="853.92" cy="884.5" rx="2.42" ry="1.8" fill="#787878" filter="url(#b1_3)"/><ellipse cx="860.09" cy="884.5" rx="2.29" ry="1.8" fill="#757575" filter="url(#b1_3)"/><path d="M938,879 L984,879 Q977.25,920.45 989.5,961.9 L932.5,961.9 Q944.75,920.45 938,879 Z" fill="#636363" filter="url(#b4)"/><path d="M946,879 L976,879 Q970,920.45 980,961.9 L942,961.9 Q952,920.45 946,879 Z" fill="#6f6f6f" filter="url(#b4)"/><ellipse cx="961" cy="956.9" rx="18" ry="18" fill="#7c7c7c" filter="url(#b5)"/><ellipse cx="961" cy="957.9" rx="12" ry="6" fill="#8a8a8a" filter="url(#b3)"/><ellipse cx="961" cy="889" rx="8" ry="7" fill="#999999" filter="url(#b3)"/><ellipse cx="961" cy="885" rx="4.5" ry="4.5" fill="#fcfcfc" filter="url(#b1_3)"/><ellipse cx="944.14" cy="884.5" rx="1.86" ry="1.8" fill="#747474" filter="url(#b1_3)"/><ellipse cx="955.78" cy="884.5" rx="2.16" ry="1.8" fill="#8f8f8f" filter="url(#b1_3)"/><ellipse cx="966.11" cy="884.5" rx="2.46" ry="1.8" fill="#838383" filter="url(#b1_3)"/><ellipse cx="976.97" cy="884.5" rx="2.19" ry="1.8" fill="#7c7c7c" filter="url(#b1_3)"/><path d="M1051.6,879 L1097.6,879 Q1090.85,920.45 1103.1,961.9 L1046.1,961.9 Q1058.35,920.45 1051.6,879 Z" fill="#636363" filter="url(#b4)"/><path d="M1059.6,879 L1089.6,879 Q1083.6,920.45 1093.6,961.9 L1055.6,961.9 Q1065.6,920.45 1059.6,879 Z" fill="#6f6f6f" filter="url(#b4)"/><ellipse cx="1074.6" cy="956.9" rx="18" ry="18" fill="#7c7c7c" filter="url(#b5)"/><ellipse cx="1074.6" cy="957.9" rx="12" ry="6" fill="#8a8a8a" filter="url(#b3)"/><ellipse cx="1062.59" cy="884.5" rx="2.99" ry="1.8" fill="#8f8f8f" filter="url(#b1_3)"/><ellipse cx="1070.85" cy="884.5" rx="1.97" ry="1.8" fill="#7a7a7a" filter="url(#b1_3)"/><ellipse cx="1078.33" cy="884.5" rx="1.61" ry="1.8" fill="#8c8c8c" filter="url(#b1_3)"/><ellipse cx="1089" cy="884.5" rx="2.77" ry="1.8" fill="#808080" filter="url(#b1_3)"/></g><ellipse cx="737" cy="814.7" rx="5" ry="13" fill="#6b6b6b" filter="url(#b3)"/><ellipse cx="736.2" cy="816.2" rx="3" ry="5.5" fill="#b8b8b8" filter="url(#b1_5)"/><ellipse cx="845" cy="814.7" rx="5" ry="13" fill="#6b6b6b" filter="url(#b3)"/><ellipse cx="845.8" cy="816.2" rx="3" ry="5.5" fill="#b8b8b8" filter="url(#b1_5)"/><ellipse cx="964" cy="814.7" rx="5" ry="13" fill="#6b6b6b" filter="url(#b3)"/><ellipse cx="963.2" cy="816.2" rx="3" ry="5.5" fill="#b8b8b8" filter="url(#b1_5)"/><ellipse cx="1071.6" cy="814.7" rx="5" ry="13" fill="#6b6b6b" filter="url(#b3)"/><ellipse cx="1072.4" cy="816.2" rx="3" ry="5.5" fill="#b8b8b8" filter="url(#b1_5)"/><g clip-path="url(#pEpmc)"><polygon points="697,810.7 745,810.7 747,866.4 699,866.4" fill="#808080" filter="url(#b3)"/><polygon points="707,810.7 740,810.7 742,866.4 708,866.4" fill="#a3a3a3" filter="url(#b3)"/><ellipse cx="725" cy="840.7" rx="7" ry="18" fill="#bdbdbd" filter="url(#b3)"/><ellipse cx="722" cy="827.7" rx="5" ry="8" fill="#c4c4c4" filter="url(#b3)"/><ellipse cx="730" cy="826.7" rx="9" ry="10" fill="#d9d9d9" filter="url(#b3)"/><ellipse cx="732.5" cy="823.7" rx="8" ry="9" fill="#fefefe" filter="url(#b2)"/><ellipse cx="726" cy="834.7" rx="12" ry="14" fill="#dedede" filter="url(#b3)"/><ellipse cx="731" cy="826.7" rx="8" ry="8" fill="#f7f7f7" filter="url(#b2)"/><ellipse cx="736.83" cy="856.59" rx="3" ry="2.71" fill="#dbdbdb" filter="url(#b1_8)"/><ellipse cx="724.64" cy="855.84" rx="4.96" ry="2.9" fill="#dbdbdb" filter="url(#b1_8)"/><ellipse cx="709.29" cy="856.16" rx="4.56" ry="2.77" fill="#dbdbdb" filter="url(#b1_8)"/><polygon points="837,810.7 885,810.7 883,866.4 835,866.4" fill="#808080" filter="url(#b3)"/><polygon points="842,810.7 875,810.7 873,866.4 841,866.4" fill="#a3a3a3" filter="url(#b3)"/><ellipse cx="857" cy="840.7" rx="7" ry="18" fill="#bdbdbd" filter="url(#b3)"/><ellipse cx="860" cy="827.7" rx="5" ry="8" fill="#c4c4c4" filter="url(#b3)"/><ellipse cx="852" cy="826.7" rx="9" ry="10" fill="#d9d9d9" filter="url(#b3)"/><ellipse cx="849.5" cy="823.7" rx="8" ry="9" fill="#fefefe" filter="url(#b2)"/><ellipse cx="856" cy="834.7" rx="12" ry="14" fill="#dedede" filter="url(#b3)"/><ellipse cx="851" cy="826.7" rx="8" ry="8" fill="#f7f7f7" filter="url(#b2)"/><ellipse cx="845.35" cy="855.57" rx="4.93" ry="3.26" fill="#dbdbdb" filter="url(#b1_8)"/><ellipse cx="857.47" cy="855.39" rx="3.2" ry="2.56" fill="#dbdbdb" filter="url(#b1_8)"/><ellipse cx="872.19" cy="855.26" rx="4.12" ry="2.95" fill="#dbdbdb" filter="url(#b1_8)"/><polygon points="924,810.7 972,810.7 974,866.4 926,866.4" fill="#808080" filter="url(#b3)"/><polygon points="934,810.7 967,810.7 969,866.4 935,866.4" fill="#a3a3a3" filter="url(#b3)"/><ellipse cx="952" cy="840.7" rx="7" ry="18" fill="#bdbdbd" filter="url(#b3)"/><ellipse cx="949" cy="827.7" rx="5" ry="8" fill="#c4c4c4" filter="url(#b3)"/><ellipse cx="957" cy="826.7" rx="9" ry="10" fill="#d9d9d9" filter="url(#b3)"/><ellipse cx="959.5" cy="823.7" rx="8" ry="9" fill="#fefefe" filter="url(#b2)"/><ellipse cx="953" cy="834.7" rx="12" ry="14" fill="#dedede" filter="url(#b3)"/><ellipse cx="958" cy="826.7" rx="8" ry="8" fill="#f7f7f7" filter="url(#b2)"/><ellipse cx="960.76" cy="856.36" rx="3.26" ry="3.14" fill="#dbdbdb" filter="url(#b1_8)"/><ellipse cx="948.47" cy="855.74" rx="3.43" ry="2.77" fill="#dbdbdb" filter="url(#b1_8)"/><ellipse cx="939.88" cy="856.51" rx="3.61" ry="3.38" fill="#dbdbdb" filter="url(#b1_8)"/><polygon points="1063.6,810.7 1111.6,810.7 1109.6,866.4 1061.6,866.4" fill="#808080" filter="url(#b3)"/><polygon points="1068.6,810.7 1101.6,810.7 1099.6,866.4 1067.6,866.4" fill="#a3a3a3" filter="url(#b3)"/><ellipse cx="1083.6" cy="840.7" rx="7" ry="18" fill="#bdbdbd" filter="url(#b3)"/><ellipse cx="1086.6" cy="827.7" rx="5" ry="8" fill="#c4c4c4" filter="url(#b3)"/><ellipse cx="1078.6" cy="826.7" rx="9" ry="10" fill="#d9d9d9" filter="url(#b3)"/><ellipse cx="1076.1" cy="823.7" rx="8" ry="9" fill="#fefefe" filter="url(#b2)"/><ellipse cx="1082.6" cy="834.7" rx="12" ry="14" fill="#dedede" filter="url(#b3)"/><ellipse cx="1077.6" cy="826.7" rx="8" ry="8" fill="#f7f7f7" filter="url(#b2)"/><ellipse cx="1072.44" cy="855.69" rx="4.71" ry="3.14" fill="#dbdbdb" filter="url(#b1_8)"/><ellipse cx="1084" cy="856.88" rx="3.43" ry="2.76" fill="#dbdbdb" filter="url(#b1_8)"/><ellipse cx="1098.69" cy="855.56" rx="3.59" ry="2.57" fill="#dbdbdb" filter="url(#b1_8)"/></g><ellipse cx="735.5" cy="735.5" rx="12" ry="19" fill="#5e5e5e" filter="url(#b4)"/><ellipse cx="735.5" cy="732.5" rx="15" ry="22" fill="#424242" filter="url(#b5)"/><ellipse cx="737" cy="752.5" rx="3" ry="9" fill="#6b6b6b" filter="url(#b2)"/><ellipse cx="846.5" cy="735.5" rx="12" ry="19" fill="#5e5e5e" filter="url(#b4)"/><ellipse cx="846.5" cy="732.5" rx="15" ry="22" fill="#424242" filter="url(#b5)"/><ellipse cx="845" cy="752.5" rx="3" ry="9" fill="#6b6b6b" filter="url(#b2)"/><ellipse cx="962.5" cy="735.5" rx="12" ry="19" fill="#5e5e5e" filter="url(#b4)"/><ellipse cx="962.5" cy="732.5" rx="15" ry="22" fill="#424242" filter="url(#b5)"/><ellipse cx="964" cy="752.5" rx="3" ry="9" fill="#6b6b6b" filter="url(#b2)"/><ellipse cx="1073.1" cy="735.5" rx="12" ry="19" fill="#5e5e5e" filter="url(#b4)"/><ellipse cx="1073.1" cy="732.5" rx="15" ry="22" fill="#424242" filter="url(#b5)"/><ellipse cx="1071.6" cy="752.5" rx="3" ry="9" fill="#6b6b6b" filter="url(#b2)"/><rect x="677" y="740.5" width="57" height="78.2" fill="#0d0d0d" /><rect x="848" y="740.5" width="113" height="78.2" fill="#0d0d0d" /><rect x="1074.6" y="740.5" width="57.4" height="78.2" fill="#0d0d0d" /><ellipse cx="735.5" cy="737.5" rx="8" ry="10" fill="#999999" filter="url(#b2_2)"/><ellipse cx="735.5" cy="737" rx="4.5" ry="6" fill="#fafafa" filter="url(#b1_2)"/><ellipse cx="846.5" cy="737.5" rx="8" ry="10" fill="#999999" filter="url(#b2_2)"/><ellipse cx="846.5" cy="737" rx="4.5" ry="6" fill="#fafafa" filter="url(#b1_2)"/><ellipse cx="962.5" cy="737.5" rx="8" ry="10" fill="#999999" filter="url(#b2_2)"/><ellipse cx="962.5" cy="737" rx="4.5" ry="6" fill="#fafafa" filter="url(#b1_2)"/><ellipse cx="1073.1" cy="737.5" rx="8" ry="10" fill="#999999" filter="url(#b2_2)"/><ellipse cx="1073.1" cy="737" rx="4.5" ry="6" fill="#fafafa" filter="url(#b1_2)"/><polygon points="675,857.91 685.66,858.09 696.47,858.25 706.1,858.95 715.97,858.49 728.9,858.02 736.13,858.89 748.68,858.1 756.19,858.69 769.72,858.04 783.32,858.86 794.15,858.31 800.98,857.85 814.68,858.09 826.32,858.11 838.9,858.52 847.25,858.01 859.02,857.88 866.84,858.47 879.66,858.54 887.9,858.9 895.54,857.82 903.69,858.33 910.17,858.01 919.12,858.49 926.18,858.23 939.3,858.98 950.56,858.63 961.23,857.97 967.51,857.82 980.8,858.64 994.5,857.83 1005.59,858.38 1017.43,858.18 1031.43,857.89 1041.8,858.68 1055,858.68 1066.63,858.75 1079.95,858.22 1091.43,858.88 1104.4,858.3 1116.72,858.84 1127.3,858.55 1142,858.4 1142,882 1129.5,882.24 1120.73,881.73 1113.3,882.26 1103.52,881.41 1096.09,881.97 1088.5,882.22 1074.83,882.37 1063.59,882.16 1054.02,882.16 1047.64,881.57 1039.74,882.4 1033.54,881.95 1026.46,881.42 1014.12,881.77 1003.56,882.25 997.23,882.45 990.98,881.49 981.36,882.58 968.64,881.78 958.69,882.15 949.38,881.66 941.18,881.94 933.83,881.73 920.23,882.25 907.44,882.4 897.46,881.56 888.93,882.1 879.86,882.46 866.54,882.37 857.1,881.64 845.77,881.79 832.63,881.93 821.35,882.49 814,881.64 802.57,881.76 796.48,881.71 783.12,882.14 773.14,882.24 765.3,881.98 754.49,881.44 742.49,881.5 729.78,881.93 719.13,882.28 710.02,882.27 696.99,882.59 685.87,881.5 675,882.1" fill="#030303" /><rect x="677" y="958.9" width="455" height="100.1" fill="#030303" /></g><line x1="677" y1="740.5" x2="1132" y2="740.5" stroke="#1e2068" stroke-width="1.4" opacity="0.9"/><line x1="677" y1="818.7" x2="734" y2="818.7" stroke="#1e2068" stroke-width="1.4" opacity="0.9"/><line x1="734" y1="740.5" x2="734" y2="818.7" stroke="#232570" stroke-width="1" opacity="0.6"/><line x1="848" y1="818.7" x2="961" y2="818.7" stroke="#1e2068" stroke-width="1.4" opacity="0.9"/><line x1="848" y1="740.5" x2="848" y2="818.7" stroke="#232570" stroke-width="1" opacity="0.6"/><line x1="961" y1="740.5" x2="961" y2="818.7" stroke="#232570" stroke-width="1" opacity="0.6"/><line x1="1074.6" y1="818.7" x2="1132" y2="818.7" stroke="#1e2068" stroke-width="1.4" opacity="0.9"/><line x1="1074.6" y1="740.5" x2="1074.6" y2="818.7" stroke="#232570" stroke-width="1" opacity="0.6"/><polyline points="675,857.91 685.66,858.09 696.47,858.25 706.1,858.95 715.97,858.49 728.9,858.02 736.13,858.89 748.68,858.1 756.19,858.69 769.72,858.04 783.32,858.86 794.15,858.31 800.98,857.85 814.68,858.09 826.32,858.11 838.9,858.52 847.25,858.01 859.02,857.88 866.84,858.47 879.66,858.54 887.9,858.9 895.54,857.82 903.69,858.33 910.17,858.01 919.12,858.49 926.18,858.23 939.3,858.98 950.56,858.63 961.23,857.97 967.51,857.82 980.8,858.64 994.5,857.83 1005.59,858.38 1017.43,858.18 1031.43,857.89 1041.8,858.68 1055,858.68 1066.63,858.75 1079.95,858.22 1091.43,858.88 1104.4,858.3 1116.72,858.84 1127.3,858.55 1142,858.4" fill="none" stroke="#17173f" stroke-width="1.4"/><polyline points="675,882.1 685.87,881.5 696.99,882.59 710.02,882.27 719.13,882.28 729.78,881.93 742.49,881.5 754.49,881.44 765.3,881.98 773.14,882.24 783.12,882.14 796.48,881.71 802.57,881.76 814,881.64 821.35,882.49 832.63,881.93 845.77,881.79 857.1,881.64 866.54,882.37 879.86,882.46 888.93,882.1 897.46,881.56 907.44,882.4 920.23,882.25 933.83,881.73 941.18,881.94 949.38,881.66 958.69,882.15 968.64,881.78 981.36,882.58 990.98,881.49 997.23,882.45 1003.56,882.25 1014.12,881.77 1026.46,881.42 1033.54,881.95 1039.74,882.4 1047.64,881.57 1054.02,882.16 1063.59,882.16 1074.83,882.37 1088.5,882.22 1096.09,881.97 1103.52,881.41 1113.3,882.26 1120.73,881.73 1129.5,882.24 1142,882" fill="none" stroke="#17173f" stroke-width="1.4"/><line x1="677" y1="958.9" x2="1132" y2="958.9" stroke="#1b1b48" stroke-width="1.4" opacity="1"/></g><rect x="677" y="605.4" width="455" height="453.6" fill="none" stroke="#1f1d5c" stroke-width="1.2"/></g>
<rect x="1143.8" y="95" width="22.8" height="347.3" fill="url(#cbBcb)" /><rect x="1143.8" y="95" width="22.8" height="347.3" fill="none" stroke="#333" stroke-width="0.8" opacity="0.7"/><line x1="1143.8" y1="398.89" x2="1146.8" y2="398.89" stroke="#333" stroke-width="1" opacity="0.7"/><line x1="1163.6" y1="398.89" x2="1166.6" y2="398.89" stroke="#333" stroke-width="1" opacity="0.7"/><line x1="1143.8" y1="355.48" x2="1146.8" y2="355.48" stroke="#333" stroke-width="1" opacity="0.7"/><line x1="1163.6" y1="355.48" x2="1166.6" y2="355.48" stroke="#333" stroke-width="1" opacity="0.7"/><line x1="1143.8" y1="312.06" x2="1146.8" y2="312.06" stroke="#333" stroke-width="1" opacity="0.7"/><line x1="1163.6" y1="312.06" x2="1166.6" y2="312.06" stroke="#333" stroke-width="1" opacity="0.7"/><line x1="1143.8" y1="268.65" x2="1146.8" y2="268.65" stroke="#333" stroke-width="1" opacity="0.7"/><line x1="1163.6" y1="268.65" x2="1166.6" y2="268.65" stroke="#333" stroke-width="1" opacity="0.7"/><line x1="1143.8" y1="225.24" x2="1146.8" y2="225.24" stroke="#333" stroke-width="1" opacity="0.7"/><line x1="1163.6" y1="225.24" x2="1166.6" y2="225.24" stroke="#333" stroke-width="1" opacity="0.7"/><line x1="1143.8" y1="181.82" x2="1146.8" y2="181.82" stroke="#333" stroke-width="1" opacity="0.7"/><line x1="1163.6" y1="181.82" x2="1166.6" y2="181.82" stroke="#333" stroke-width="1" opacity="0.7"/><line x1="1143.8" y1="138.41" x2="1146.8" y2="138.41" stroke="#333" stroke-width="1" opacity="0.7"/><line x1="1163.6" y1="138.41" x2="1166.6" y2="138.41" stroke="#333" stroke-width="1" opacity="0.7"/>
<rect x="1143.6" y="658.2" width="22.8" height="347.6" fill="url(#cbEcb)" /><rect x="1143.6" y="658.2" width="22.8" height="347.6" fill="none" stroke="#333" stroke-width="0.8" opacity="0.7"/><line x1="1143.6" y1="962.35" x2="1146.6" y2="962.35" stroke="#333" stroke-width="1" opacity="0.7"/><line x1="1163.4" y1="962.35" x2="1166.4" y2="962.35" stroke="#333" stroke-width="1" opacity="0.7"/><line x1="1143.6" y1="918.9" x2="1146.6" y2="918.9" stroke="#333" stroke-width="1" opacity="0.7"/><line x1="1163.4" y1="918.9" x2="1166.4" y2="918.9" stroke="#333" stroke-width="1" opacity="0.7"/><line x1="1143.6" y1="875.45" x2="1146.6" y2="875.45" stroke="#333" stroke-width="1" opacity="0.7"/><line x1="1163.4" y1="875.45" x2="1166.4" y2="875.45" stroke="#333" stroke-width="1" opacity="0.7"/><line x1="1143.6" y1="832" x2="1146.6" y2="832" stroke="#333" stroke-width="1" opacity="0.7"/><line x1="1163.4" y1="832" x2="1166.4" y2="832" stroke="#333" stroke-width="1" opacity="0.7"/><line x1="1143.6" y1="788.55" x2="1146.6" y2="788.55" stroke="#333" stroke-width="1" opacity="0.7"/><line x1="1163.4" y1="788.55" x2="1166.4" y2="788.55" stroke="#333" stroke-width="1" opacity="0.7"/><line x1="1143.6" y1="745.1" x2="1146.6" y2="745.1" stroke="#333" stroke-width="1" opacity="0.7"/><line x1="1163.4" y1="745.1" x2="1166.4" y2="745.1" stroke="#333" stroke-width="1" opacity="0.7"/><line x1="1143.6" y1="701.65" x2="1146.6" y2="701.65" stroke="#333" stroke-width="1" opacity="0.7"/><line x1="1163.4" y1="701.65" x2="1166.4" y2="701.65" stroke="#333" stroke-width="1" opacity="0.7"/>
<g id="pC"><rect x="1278.8" y="43.2" width="453.1" height="452.4" fill="url(#pCst)"/><rect x="1278.8" y="43.2" width="453.1" height="452.4" fill="none" stroke="#222248" stroke-width="1.2"/></g>
<g id="pF"><g clip-path="url(#pFclip)"><g filter="url(#jet)"><rect x="1279.1" y="606.2" width="451.7" height="452" fill="url(#pFgs)"/><ellipse cx="1334.06" cy="626.2" rx="9" ry="30" fill="#c4c4c4" opacity="0.48" filter="url(#b7)"/><ellipse cx="1334.06" cy="866.2" rx="9" ry="25" fill="#c4c4c4" opacity="0.36" filter="url(#b7)"/><ellipse cx="1334.06" cy="1026.2" rx="9" ry="40" fill="#c4c4c4" opacity="0.42" filter="url(#b7)"/><ellipse cx="1449.99" cy="621.2" rx="9" ry="25" fill="#c4c4c4" opacity="0.42" filter="url(#b7)"/><ellipse cx="1449.99" cy="871.2" rx="9" ry="35" fill="#c4c4c4" opacity="0.45" filter="url(#b7)"/><ellipse cx="1449.99" cy="996.2" rx="9" ry="40" fill="#c4c4c4" opacity="0.36" filter="url(#b7)"/><ellipse cx="1559.91" cy="906.2" rx="9" ry="70" fill="#c4c4c4" opacity="0.57" filter="url(#b7)"/><ellipse cx="1559.91" cy="726.2" rx="9" ry="30" fill="#c4c4c4" opacity="0.27" filter="url(#b7)"/><ellipse cx="1675.84" cy="616.2" rx="9" ry="30" fill="#c4c4c4" opacity="0.48" filter="url(#b7)"/><ellipse cx="1675.84" cy="1006.2" rx="9" ry="60" fill="#c4c4c4" opacity="0.57" filter="url(#b7)"/><ellipse cx="1675.84" cy="806.2" rx="9" ry="30" fill="#c4c4c4" opacity="0.24" filter="url(#b7)"/></g></g><rect x="1279.1" y="606.2" width="451.7" height="452" fill="none" stroke="#222248" stroke-width="1.2"/></g>
<line x1="1278.8" y1="269.6" x2="1731.9" y2="269.6" stroke="#fff" stroke-width="4" stroke-dasharray="19.2 18.4" stroke-dashoffset="11" opacity="0.95"/><rect x="1325.8" y="94.9" width="381.7" height="122" fill="none" stroke="#111" stroke-width="1.5" opacity="0.9"/><line x1="1325.8" y1="203.34" x2="1330.8" y2="203.34" stroke="#222" stroke-width="1.2" opacity="0.75"/><line x1="1702.5" y1="203.34" x2="1707.5" y2="203.34" stroke="#222" stroke-width="1.2" opacity="0.75"/><line x1="1325.8" y1="189.79" x2="1330.8" y2="189.79" stroke="#222" stroke-width="1.2" opacity="0.75"/><line x1="1702.5" y1="189.79" x2="1707.5" y2="189.79" stroke="#222" stroke-width="1.2" opacity="0.75"/><line x1="1325.8" y1="176.23" x2="1330.8" y2="176.23" stroke="#222" stroke-width="1.2" opacity="0.75"/><line x1="1702.5" y1="176.23" x2="1707.5" y2="176.23" stroke="#222" stroke-width="1.2" opacity="0.75"/><line x1="1325.8" y1="162.68" x2="1330.8" y2="162.68" stroke="#222" stroke-width="1.2" opacity="0.75"/><line x1="1702.5" y1="162.68" x2="1707.5" y2="162.68" stroke="#222" stroke-width="1.2" opacity="0.75"/><line x1="1325.8" y1="149.12" x2="1330.8" y2="149.12" stroke="#222" stroke-width="1.2" opacity="0.75"/><line x1="1702.5" y1="149.12" x2="1707.5" y2="149.12" stroke="#222" stroke-width="1.2" opacity="0.75"/><line x1="1325.8" y1="135.57" x2="1330.8" y2="135.57" stroke="#222" stroke-width="1.2" opacity="0.75"/><line x1="1702.5" y1="135.57" x2="1707.5" y2="135.57" stroke="#222" stroke-width="1.2" opacity="0.75"/><line x1="1325.8" y1="122.01" x2="1330.8" y2="122.01" stroke="#222" stroke-width="1.2" opacity="0.75"/><line x1="1702.5" y1="122.01" x2="1707.5" y2="122.01" stroke="#222" stroke-width="1.2" opacity="0.75"/><line x1="1325.8" y1="108.46" x2="1330.8" y2="108.46" stroke="#222" stroke-width="1.2" opacity="0.75"/><line x1="1702.5" y1="108.46" x2="1707.5" y2="108.46" stroke="#222" stroke-width="1.2" opacity="0.75"/><polyline points="1325.8,215.9 1326.75,215.78 1327.71,215.43 1328.66,214.85 1329.62,214.03 1330.57,212.99 1331.53,211.72 1332.48,210.24 1333.43,208.54 1334.39,206.64 1335.34,204.54 1336.3,202.25 1337.25,199.77 1338.21,197.13 1339.16,194.33 1340.11,191.37 1341.07,188.28 1342.02,185.06 1342.98,181.73 1343.93,178.3 1344.88,174.79 1345.84,171.2 1346.79,167.55 1347.75,163.86 1348.7,160.14 1349.66,156.4 1350.61,152.66 1351.56,148.94 1352.52,145.25 1353.47,141.6 1354.43,138.01 1355.38,134.5 1356.34,131.07 1357.29,127.74 1358.24,124.52 1359.2,121.43 1360.15,118.47 1361.11,115.67 1362.06,113.03 1363.02,110.55 1363.97,108.26 1364.92,106.16 1365.88,104.26 1366.83,102.56 1367.79,101.08 1368.74,99.81 1369.7,98.77 1370.65,97.95 1371.6,97.37 1372.56,97.02 1373.51,96.9 1374.47,97.02 1375.42,97.37 1376.38,97.95 1377.33,98.77 1378.28,99.81 1379.24,101.08 1380.19,102.56 1381.15,104.26 1382.1,106.16 1383.06,108.26 1384.01,110.55 1384.96,113.03 1385.92,115.67 1386.87,118.47 1387.83,121.43 1388.78,124.52 1389.73,127.74 1390.69,131.07 1391.64,134.5 1392.6,138.01 1393.55,141.6 1394.51,145.25 1395.46,148.94 1396.41,152.66 1397.37,156.4 1398.32,160.14 1399.28,163.86 1400.23,167.55 1401.19,171.2 1402.14,174.79 1403.09,178.3 1404.05,181.73 1405,185.06 1405.96,188.28 1406.91,191.37 1407.87,194.33 1408.82,197.13 1409.77,199.77 1410.73,202.25 1411.68,204.54 1412.64,206.64 1413.59,208.54 1414.55,210.24 1415.5,211.72 1416.45,212.99 1417.41,214.03 1418.36,214.85 1419.32,215.43 1420.27,215.78 1421.22,215.9 1422.18,215.78 1423.13,215.43 1424.09,214.85 1425.04,214.03 1426,212.99 1426.95,211.72 1427.9,210.24 1428.86,208.54 1429.81,206.64 1430.77,204.54 1431.72,202.25 1432.68,199.77 1433.63,197.13 1434.58,194.33 1435.54,191.37 1436.49,188.28 1437.45,185.06 1438.4,181.73 1439.36,178.3 1440.31,174.79 1441.26,171.2 1442.22,167.55 1443.17,163.86 1444.13,160.14 1445.08,156.4 1446.04,152.66 1446.99,148.94 1447.94,145.25 1448.9,141.6 1449.85,138.01 1450.81,134.5 1451.76,131.07 1452.72,127.74 1453.67,124.52 1454.62,121.43 1455.58,118.47 1456.53,115.67 1457.49,113.03 1458.44,110.55 1459.39,108.26 1460.35,106.16 1461.3,104.26 1462.26,102.56 1463.21,101.08 1464.17,99.81 1465.12,98.77 1466.07,97.95 1467.03,97.37 1467.98,97.02 1468.94,96.9 1469.89,97.02 1470.85,97.37 1471.8,97.95 1472.75,98.77 1473.71,99.81 1474.66,101.08 1475.62,102.56 1476.57,104.26 1477.53,106.16 1478.48,108.26 1479.43,110.55 1480.39,113.03 1481.34,115.67 1482.3,118.47 1483.25,121.43 1484.21,124.52 1485.16,127.74 1486.11,131.07 1487.07,134.5 1488.02,138.01 1488.98,141.6 1489.93,145.25 1490.89,148.94 1491.84,152.66 1492.79,156.4 1493.75,160.14 1494.7,163.86 1495.66,167.55 1496.61,171.2 1497.57,174.79 1498.52,178.3 1499.47,181.73 1500.43,185.06 1501.38,188.28 1502.34,191.37 1503.29,194.33 1504.24,197.13 1505.2,199.77 1506.15,202.25 1507.11,204.54 1508.06,206.64 1509.02,208.54 1509.97,210.24 1510.92,211.72 1511.88,212.99 1512.83,214.03 1513.79,214.85 1514.74,215.43 1515.7,215.78 1516.65,215.9 1517.6,215.78 1518.56,215.43 1519.51,214.85 1520.47,214.03 1521.42,212.99 1522.38,211.72 1523.33,210.24 1524.28,208.54 1525.24,206.64 1526.19,204.54 1527.15,202.25 1528.1,199.77 1529.06,197.13 1530.01,194.33 1530.96,191.37 1531.92,188.28 1532.87,185.06 1533.83,181.73 1534.78,178.3 1535.73,174.79 1536.69,171.2 1537.64,167.55 1538.6,163.86 1539.55,160.14 1540.51,156.4 1541.46,152.66 1542.41,148.94 1543.37,145.25 1544.32,141.6 1545.28,138.01 1546.23,134.5 1547.19,131.07 1548.14,127.74 1549.09,124.52 1550.05,121.43 1551,118.47 1551.96,115.67 1552.91,113.03 1553.87,110.55 1554.82,108.26 1555.77,106.16 1556.73,104.26 1557.68,102.56 1558.64,101.08 1559.59,99.81 1560.55,98.77 1561.5,97.95 1562.45,97.37 1563.41,97.02 1564.36,96.9 1565.32,97.02 1566.27,97.37 1567.23,97.95 1568.18,98.77 1569.13,99.81 1570.09,101.08 1571.04,102.56 1572,104.26 1572.95,106.16 1573.9,108.26 1574.86,110.55 1575.81,113.03 1576.77,115.67 1577.72,118.47 1578.68,121.43 1579.63,124.52 1580.58,127.74 1581.54,131.07 1582.49,134.5 1583.45,138.01 1584.4,141.6 1585.36,145.25 1586.31,148.94 1587.26,152.66 1588.22,156.4 1589.17,160.14 1590.13,163.86 1591.08,167.55 1592.04,171.2 1592.99,174.79 1593.94,178.3 1594.9,181.73 1595.85,185.06 1596.81,188.28 1597.76,191.37 1598.72,194.33 1599.67,197.13 1600.62,199.77 1601.58,202.25 1602.53,204.54 1603.49,206.64 1604.44,208.54 1605.4,210.24 1606.35,211.72 1607.3,212.99 1608.26,214.03 1609.21,214.85 1610.17,215.43 1611.12,215.78 1612.08,215.9 1613.03,215.78 1613.98,215.43 1614.94,214.85 1615.89,214.03 1616.85,212.99 1617.8,211.72 1618.75,210.24 1619.71,208.54 1620.66,206.64 1621.62,204.54 1622.57,202.25 1623.53,199.77 1624.48,197.13 1625.43,194.33 1626.39,191.37 1627.34,188.28 1628.3,185.06 1629.25,181.73 1630.21,178.3 1631.16,174.79 1632.11,171.2 1633.07,167.55 1634.02,163.86 1634.98,160.14 1635.93,156.4 1636.89,152.66 1637.84,148.94 1638.79,145.25 1639.75,141.6 1640.7,138.01 1641.66,134.5 1642.61,131.07 1643.57,127.74 1644.52,124.52 1645.47,121.43 1646.43,118.47 1647.38,115.67 1648.34,113.03 1649.29,110.55 1650.24,108.26 1651.2,106.16 1652.15,104.26 1653.11,102.56 1654.06,101.08 1655.02,99.81 1655.97,98.77 1656.92,97.95 1657.88,97.37 1658.83,97.02 1659.79,96.9 1660.74,97.02 1661.7,97.37 1662.65,97.95 1663.6,98.77 1664.56,99.81 1665.51,101.08 1666.47,102.56 1667.42,104.26 1668.38,106.16 1669.33,108.26 1670.28,110.55 1671.24,113.03 1672.19,115.67 1673.15,118.47 1674.1,121.43 1675.06,124.52 1676.01,127.74 1676.96,131.07 1677.92,134.5 1678.87,138.01 1679.83,141.6 1680.78,145.25 1681.74,148.94 1682.69,152.66 1683.64,156.4 1684.6,160.14 1685.55,163.86 1686.51,167.55 1687.46,171.2 1688.41,174.79 1689.37,178.3 1690.32,181.73 1691.28,185.06 1692.23,188.28 1693.19,191.37 1694.14,194.33 1695.09,197.13 1696.05,199.77 1697,202.25 1697.96,204.54 1698.91,206.64 1699.87,208.54 1700.82,210.24 1701.77,211.72 1702.73,212.99 1703.68,214.03 1704.64,214.85 1705.59,215.43 1706.55,215.78 1707.5,215.9" fill="none" stroke="#111" stroke-width="3" stroke-linejoin="round"/>
<line x1="1279.1" y1="832.3" x2="1730.8" y2="832.3" stroke="#fff" stroke-width="4" stroke-dasharray="19.2 18.4" stroke-dashoffset="11.3" opacity="0.95"/><rect x="1324.9" y="658.4" width="380.5" height="121.6" fill="none" stroke="#111" stroke-width="1.5" opacity="0.9"/><line x1="1324.9" y1="766.49" x2="1329.9" y2="766.49" stroke="#222" stroke-width="1.2" opacity="0.75"/><line x1="1700.4" y1="766.49" x2="1705.4" y2="766.49" stroke="#222" stroke-width="1.2" opacity="0.75"/><line x1="1324.9" y1="752.98" x2="1329.9" y2="752.98" stroke="#222" stroke-width="1.2" opacity="0.75"/><line x1="1700.4" y1="752.98" x2="1705.4" y2="752.98" stroke="#222" stroke-width="1.2" opacity="0.75"/><line x1="1324.9" y1="739.47" x2="1329.9" y2="739.47" stroke="#222" stroke-width="1.2" opacity="0.75"/><line x1="1700.4" y1="739.47" x2="1705.4" y2="739.47" stroke="#222" stroke-width="1.2" opacity="0.75"/><line x1="1324.9" y1="725.96" x2="1329.9" y2="725.96" stroke="#222" stroke-width="1.2" opacity="0.75"/><line x1="1700.4" y1="725.96" x2="1705.4" y2="725.96" stroke="#222" stroke-width="1.2" opacity="0.75"/><line x1="1324.9" y1="712.44" x2="1329.9" y2="712.44" stroke="#222" stroke-width="1.2" opacity="0.75"/><line x1="1700.4" y1="712.44" x2="1705.4" y2="712.44" stroke="#222" stroke-width="1.2" opacity="0.75"/><line x1="1324.9" y1="698.93" x2="1329.9" y2="698.93" stroke="#222" stroke-width="1.2" opacity="0.75"/><line x1="1700.4" y1="698.93" x2="1705.4" y2="698.93" stroke="#222" stroke-width="1.2" opacity="0.75"/><line x1="1324.9" y1="685.42" x2="1329.9" y2="685.42" stroke="#222" stroke-width="1.2" opacity="0.75"/><line x1="1700.4" y1="685.42" x2="1705.4" y2="685.42" stroke="#222" stroke-width="1.2" opacity="0.75"/><line x1="1324.9" y1="671.91" x2="1329.9" y2="671.91" stroke="#222" stroke-width="1.2" opacity="0.75"/><line x1="1700.4" y1="671.91" x2="1705.4" y2="671.91" stroke="#222" stroke-width="1.2" opacity="0.75"/><polyline points="1324.9,779 1325.85,778.88 1326.8,778.53 1327.75,777.95 1328.71,777.14 1329.66,776.1 1330.61,774.84 1331.56,773.36 1332.51,771.66 1333.46,769.77 1334.41,767.67 1335.36,765.39 1336.32,762.93 1337.27,760.29 1338.22,757.5 1339.17,754.56 1340.12,751.47 1341.07,748.27 1342.02,744.95 1342.97,741.53 1343.93,738.02 1344.88,734.45 1345.83,730.81 1346.78,727.13 1347.73,723.42 1348.68,719.7 1349.63,715.98 1350.58,712.27 1351.54,708.59 1352.49,704.95 1353.44,701.38 1354.39,697.87 1355.34,694.45 1356.29,691.13 1357.24,687.93 1358.19,684.84 1359.14,681.9 1360.1,679.11 1361.05,676.47 1362,674.01 1362.95,671.73 1363.9,669.63 1364.85,667.74 1365.8,666.04 1366.76,664.56 1367.71,663.3 1368.66,662.26 1369.61,661.45 1370.56,660.87 1371.51,660.52 1372.46,660.4 1373.41,660.52 1374.37,660.87 1375.32,661.45 1376.27,662.26 1377.22,663.3 1378.17,664.56 1379.12,666.04 1380.07,667.74 1381.02,669.63 1381.98,671.73 1382.93,674.01 1383.88,676.47 1384.83,679.11 1385.78,681.9 1386.73,684.84 1387.68,687.93 1388.63,691.13 1389.59,694.45 1390.54,697.87 1391.49,701.38 1392.44,704.95 1393.39,708.59 1394.34,712.27 1395.29,715.98 1396.24,719.7 1397.2,723.42 1398.15,727.13 1399.1,730.81 1400.05,734.45 1401,738.02 1401.95,741.53 1402.9,744.95 1403.85,748.27 1404.81,751.47 1405.76,754.56 1406.71,757.5 1407.66,760.29 1408.61,762.93 1409.56,765.39 1410.51,767.67 1411.46,769.77 1412.42,771.66 1413.37,773.36 1414.32,774.84 1415.27,776.1 1416.22,777.14 1417.17,777.95 1418.12,778.53 1419.07,778.88 1420.03,779 1420.98,778.88 1421.93,778.53 1422.88,777.95 1423.83,777.14 1424.78,776.1 1425.73,774.84 1426.68,773.36 1427.64,771.66 1428.59,769.77 1429.54,767.67 1430.49,765.39 1431.44,762.93 1432.39,760.29 1433.34,757.5 1434.29,754.56 1435.25,751.47 1436.2,748.27 1437.15,744.95 1438.1,741.53 1439.05,738.02 1440,734.45 1440.95,730.81 1441.9,727.13 1442.86,723.42 1443.81,719.7 1444.76,715.98 1445.71,712.27 1446.66,708.59 1447.61,704.95 1448.56,701.38 1449.51,697.87 1450.47,694.45 1451.42,691.13 1452.37,687.93 1453.32,684.84 1454.27,681.9 1455.22,679.11 1456.17,676.47 1457.12,674.01 1458.08,671.73 1459.03,669.63 1459.98,667.74 1460.93,666.04 1461.88,664.56 1462.83,663.3 1463.78,662.26 1464.73,661.45 1465.69,660.87 1466.64,660.52 1467.59,660.4 1468.54,660.52 1469.49,660.87 1470.44,661.45 1471.39,662.26 1472.34,663.3 1473.3,664.56 1474.25,666.04 1475.2,667.74 1476.15,669.63 1477.1,671.73 1478.05,674.01 1479,676.47 1479.95,679.11 1480.91,681.9 1481.86,684.84 1482.81,687.93 1483.76,691.13 1484.71,694.45 1485.66,697.87 1486.61,701.38 1487.56,704.95 1488.52,708.59 1489.47,712.27 1490.42,715.98 1491.37,719.7 1492.32,723.42 1493.27,727.13 1494.22,730.81 1495.17,734.45 1496.12,738.02 1497.08,741.53 1498.03,744.95 1498.98,748.27 1499.93,751.47 1500.88,754.56 1501.83,757.5 1502.78,760.29 1503.74,762.93 1504.69,765.39 1505.64,767.67 1506.59,769.77 1507.54,771.66 1508.49,773.36 1509.44,774.84 1510.39,776.1 1511.35,777.14 1512.3,777.95 1513.25,778.53 1514.2,778.88 1515.15,779 1516.1,778.88 1517.05,778.53 1518,777.95 1518.96,777.14 1519.91,776.1 1520.86,774.84 1521.81,773.36 1522.76,771.66 1523.71,769.77 1524.66,767.67 1525.61,765.39 1526.57,762.93 1527.52,760.29 1528.47,757.5 1529.42,754.56 1530.37,751.47 1531.32,748.27 1532.27,744.95 1533.22,741.53 1534.18,738.02 1535.13,734.45 1536.08,730.81 1537.03,727.13 1537.98,723.42 1538.93,719.7 1539.88,715.98 1540.83,712.27 1541.79,708.59 1542.74,704.95 1543.69,701.38 1544.64,697.87 1545.59,694.45 1546.54,691.13 1547.49,687.93 1548.44,684.84 1549.39,681.9 1550.35,679.11 1551.3,676.47 1552.25,674.01 1553.2,671.73 1554.15,669.63 1555.1,667.74 1556.05,666.04 1557.01,664.56 1557.96,663.3 1558.91,662.26 1559.86,661.45 1560.81,660.87 1561.76,660.52 1562.71,660.4 1563.66,660.52 1564.62,660.87 1565.57,661.45 1566.52,662.26 1567.47,663.3 1568.42,664.56 1569.37,666.04 1570.32,667.74 1571.27,669.63 1572.23,671.73 1573.18,674.01 1574.13,676.47 1575.08,679.11 1576.03,681.9 1576.98,684.84 1577.93,687.93 1578.88,691.13 1579.84,694.45 1580.79,697.87 1581.74,701.38 1582.69,704.95 1583.64,708.59 1584.59,712.27 1585.54,715.98 1586.49,719.7 1587.45,723.42 1588.4,727.13 1589.35,730.81 1590.3,734.45 1591.25,738.02 1592.2,741.53 1593.15,744.95 1594.1,748.27 1595.06,751.47 1596.01,754.56 1596.96,757.5 1597.91,760.29 1598.86,762.93 1599.81,765.39 1600.76,767.67 1601.71,769.77 1602.66,771.66 1603.62,773.36 1604.57,774.84 1605.52,776.1 1606.47,777.14 1607.42,777.95 1608.37,778.53 1609.32,778.88 1610.28,779 1611.23,778.88 1612.18,778.53 1613.13,777.95 1614.08,777.14 1615.03,776.1 1615.98,774.84 1616.93,773.36 1617.89,771.66 1618.84,769.77 1619.79,767.67 1620.74,765.39 1621.69,762.93 1622.64,760.29 1623.59,757.5 1624.54,754.56 1625.5,751.47 1626.45,748.27 1627.4,744.95 1628.35,741.53 1629.3,738.02 1630.25,734.45 1631.2,730.81 1632.15,727.13 1633.11,723.42 1634.06,719.7 1635.01,715.98 1635.96,712.27 1636.91,708.59 1637.86,704.95 1638.81,701.38 1639.76,697.87 1640.72,694.45 1641.67,691.13 1642.62,687.93 1643.57,684.84 1644.52,681.9 1645.47,679.11 1646.42,676.47 1647.37,674.01 1648.33,671.73 1649.28,669.63 1650.23,667.74 1651.18,666.04 1652.13,664.56 1653.08,663.3 1654.03,662.26 1654.98,661.45 1655.94,660.87 1656.89,660.52 1657.84,660.4 1658.79,660.52 1659.74,660.87 1660.69,661.45 1661.64,662.26 1662.59,663.3 1663.55,664.56 1664.5,666.04 1665.45,667.74 1666.4,669.63 1667.35,671.73 1668.3,674.01 1669.25,676.47 1670.2,679.11 1671.16,681.9 1672.11,684.84 1673.06,687.93 1674.01,691.13 1674.96,694.45 1675.91,697.87 1676.86,701.38 1677.81,704.95 1678.77,708.59 1679.72,712.27 1680.67,715.98 1681.62,719.7 1682.57,723.42 1683.52,727.13 1684.47,730.81 1685.42,734.45 1686.38,738.02 1687.33,741.53 1688.28,744.95 1689.23,748.27 1690.18,751.47 1691.13,754.56 1692.08,757.5 1693.03,760.29 1693.99,762.93 1694.94,765.39 1695.89,767.67 1696.84,769.77 1697.79,771.66 1698.74,773.36 1699.69,774.84 1700.64,776.1 1701.6,777.14 1702.55,777.95 1703.5,778.53 1704.45,778.88 1705.4,779" fill="none" stroke="#111" stroke-width="3" stroke-linejoin="round"/>
<rect x="1749.5" y="96.6" width="22.3" height="346" fill="url(#cbCcb)" /><rect x="1749.5" y="96.6" width="22.3" height="346" fill="none" stroke="#333" stroke-width="0.8" opacity="0.7"/><line x1="1749.5" y1="370.52" x2="1752.5" y2="370.52" stroke="#333" stroke-width="1" opacity="0.7"/><line x1="1768.8" y1="370.52" x2="1771.8" y2="370.52" stroke="#333" stroke-width="1" opacity="0.7"/><line x1="1749.5" y1="298.43" x2="1752.5" y2="298.43" stroke="#333" stroke-width="1" opacity="0.7"/><line x1="1768.8" y1="298.43" x2="1771.8" y2="298.43" stroke="#333" stroke-width="1" opacity="0.7"/><line x1="1749.5" y1="226.35" x2="1752.5" y2="226.35" stroke="#333" stroke-width="1" opacity="0.7"/><line x1="1768.8" y1="226.35" x2="1771.8" y2="226.35" stroke="#333" stroke-width="1" opacity="0.7"/><line x1="1749.5" y1="154.27" x2="1752.5" y2="154.27" stroke="#333" stroke-width="1" opacity="0.7"/><line x1="1768.8" y1="154.27" x2="1771.8" y2="154.27" stroke="#333" stroke-width="1" opacity="0.7"/>
<rect x="1747.4" y="661.3" width="21.8" height="345" fill="url(#cbFcb)" /><rect x="1747.4" y="661.3" width="21.8" height="345" fill="none" stroke="#333" stroke-width="0.8" opacity="0.7"/><line x1="1747.4" y1="934.42" x2="1750.4" y2="934.42" stroke="#333" stroke-width="1" opacity="0.7"/><line x1="1766.2" y1="934.42" x2="1769.2" y2="934.42" stroke="#333" stroke-width="1" opacity="0.7"/><line x1="1747.4" y1="862.55" x2="1750.4" y2="862.55" stroke="#333" stroke-width="1" opacity="0.7"/><line x1="1766.2" y1="862.55" x2="1769.2" y2="862.55" stroke="#333" stroke-width="1" opacity="0.7"/><line x1="1747.4" y1="790.67" x2="1750.4" y2="790.67" stroke="#333" stroke-width="1" opacity="0.7"/><line x1="1766.2" y1="790.67" x2="1769.2" y2="790.67" stroke="#333" stroke-width="1" opacity="0.7"/><line x1="1747.4" y1="718.8" x2="1750.4" y2="718.8" stroke="#333" stroke-width="1" opacity="0.7"/><line x1="1766.2" y1="718.8" x2="1769.2" y2="718.8" stroke="#333" stroke-width="1" opacity="0.7"/>
<g id="pD"><g clip-path="url(#dclip)" fill="none" stroke-linejoin="round">
<path d="M72.00,1017.20 L73.00,1017.19 L74.00,1017.19 L75.00,1017.18 L76.00,1017.17 L77.00,1017.16 L78.00,1017.15 L79.00,1017.14 L80.00,1017.12 L81.00,1017.11 L82.00,1017.10 L83.00,1017.08 L84.00,1017.07 L85.00,1017.05 L86.00,1017.04 L87.00,1017.02 L88.00,1017.00 L89.00,1016.98 L90.00,1016.96 L91.00,1016.94 L92.00,1016.92 L93.00,1016.90 L94.00,1016.88 L95.00,1016.86 L96.00,1016.84 L97.00,1016.81 L98.00,1016.79 L99.00,1016.77 L100.00,1016.74 L101.00,1016.72 L102.00,1016.69 L103.00,1016.67 L104.00,1016.64 L105.00,1016.61 L106.00,1016.58 L107.00,1016.56 L108.00,1016.53 L109.00,1016.50 L110.00,1016.47 L111.00,1016.44 L112.00,1016.41 L113.00,1016.38 L114.00,1016.35 L115.00,1016.32 L116.00,1016.29 L117.00,1016.26 L118.00,1016.23 L119.00,1016.20 L120.00,1016.16 L121.00,1016.13 L122.00,1016.10 L123.00,1016.07 L124.00,1016.03 L125.00,1016.00 L126.00,1015.97 L127.00,1015.93 L128.00,1015.90 L129.00,1015.87 L130.00,1015.83 L131.00,1015.80 L132.00,1015.77 L133.00,1015.73 L134.00,1015.69 L135.00,1015.65 L136.00,1015.60 L137.00,1015.56 L138.00,1015.51 L139.00,1015.46 L140.00,1015.41 L141.00,1015.36 L142.00,1015.31 L143.00,1015.25 L144.00,1015.20 L145.00,1015.14 L146.00,1015.08 L147.00,1015.02 L148.00,1014.96 L149.00,1014.90 L150.00,1014.84 L151.00,1014.78 L152.00,1014.71 L153.00,1014.65 L154.00,1014.58 L155.00,1014.52 L156.00,1014.45 L157.00,1014.39 L158.00,1014.32 L159.00,1014.25 L160.00,1014.19 L161.00,1014.12 L162.00,1014.05 L163.00,1013.99 L164.00,1013.92 L165.00,1013.86 L166.00,1013.79 L167.00,1013.73 L168.00,1013.66 L169.00,1013.60 L170.00,1013.54 L171.00,1013.48 L172.00,1013.42 L173.00,1013.36 L174.00,1013.30 L175.00,1013.24 L176.00,1013.18 L177.00,1013.13 L178.00,1013.07 L179.00,1013.02 L180.00,1012.97 L181.00,1012.92 L182.00,1012.87 L183.00,1012.83 L184.00,1012.78 L185.00,1012.74 L186.00,1012.69 L187.00,1012.64 L188.00,1012.59 L189.00,1012.54 L190.00,1012.49 L191.00,1012.44 L192.00,1012.39 L193.00,1012.34 L194.00,1012.30 L195.00,1012.25 L196.00,1012.21 L197.00,1012.17 L198.00,1012.13 L199.00,1012.10 L200.00,1012.07 L201.00,1012.05 L202.00,1012.03 L203.00,1012.01 L204.00,1012.00 L205.00,1012.00 L206.00,1012.04 L207.00,1012.17 L208.00,1012.38 L209.00,1012.67 L210.00,1013.04 L211.00,1013.48 L212.00,1014.00 L212.25,1014.19 L212.50,1014.47 L212.75,1014.83 L213.00,1015.28 L213.25,1015.79 L213.50,1016.37 L213.75,1017.00 L214.00,1017.69 L214.25,1018.41 L214.50,1019.17 L214.75,1019.95 L215.00,1020.75 L215.25,1021.57 L215.50,1022.38 L215.75,1023.20 L216.00,1024.00 L216.25,1024.90 L216.50,1025.98 L216.75,1027.21 L217.00,1028.55 L217.25,1029.97 L217.50,1031.43 L217.75,1032.89 L218.00,1034.33 L218.25,1035.69 L218.50,1036.96 L218.75,1038.08 L219.00,1039.04 L219.25,1039.78 L219.50,1040.28 L219.75,1040.49 L220.00,1040.36 L220.25,1039.82 L220.50,1038.86 L220.75,1037.50 L221.00,1035.75 L221.25,1033.62 L221.50,1031.11 L221.75,1026.26 L222.00,1012.66 L222.25,993.30 L222.50,972.15 L222.75,953.18 L223.00,937.76 L223.25,922.46 L223.50,907.38 L223.75,892.79 L224.00,878.91 L224.25,865.99 L224.50,854.29 L224.75,843.80 L225.00,833.73 L225.25,824.12 L225.50,815.12 L225.75,806.88 L226.00,799.53 L226.25,793.22 L226.50,787.99 L226.75,782.93 L227.00,778.01 L227.25,773.43 L227.50,769.43 L227.75,766.22 L228.00,764.01 L228.25,763.03 L228.50,763.53 L228.75,765.53 L229.00,768.78 L229.25,772.99 L229.50,777.90 L229.75,784.59 L230.00,796.86 L230.25,811.75 L230.50,825.58 L230.75,835.99 L231.00,845.94 L231.25,855.37 L231.50,863.73 L231.75,870.46 L232.00,875.00 L232.25,878.10 L232.50,880.89 L232.75,883.36 L233.00,885.54 L233.25,887.42 L233.50,889.01 L233.75,890.32 L234.00,891.36 L234.25,892.14 L234.50,892.81 L234.75,893.44 L235.00,894.03 L235.25,894.57 L235.50,895.05 L235.75,895.46 L236.00,895.80 L236.25,896.06 L236.50,896.23 L236.75,896.30 L237.00,896.28 L237.25,896.23 L237.50,896.12 L237.75,895.98 L238.00,895.80 L238.25,895.59 L238.50,895.35 L238.75,895.07 L239.00,894.77 L239.25,894.45 L239.50,894.11 L239.75,893.75 L240.00,893.38 L240.25,893.00 L240.50,892.60 L240.75,892.20 L241.00,891.80 L241.25,891.40 L241.50,891.00 L241.75,890.58 L242.00,890.11 L242.25,889.61 L242.50,889.06 L242.75,888.48 L243.00,887.87 L243.25,887.23 L243.50,886.56 L243.75,885.86 L244.00,885.15 L244.25,884.41 L244.50,883.66 L244.75,882.90 L245.00,882.13 L246.00,879.00 L247.00,875.64 L248.00,871.91 L249.00,867.96 L250.00,863.94 L251.00,860.00 L252.00,856.25 L253.00,852.62 L254.00,849.00 L255.00,845.29 L256.00,841.36 L257.00,837.11 L258.00,832.41 L259.00,826.92 L260.00,820.78 L261.00,814.35 L262.00,808.00 L263.00,801.23 L264.00,794.37 L265.00,789.00 L266.00,784.80 L267.00,781.64 L268.00,781.16 L269.00,782.72 L270.00,785.44 L271.00,788.73 L272.00,794.14 L273.00,800.98 L274.00,807.81 L275.00,815.18 L276.00,822.75 L277.00,830.32 L278.00,838.08 L279.00,845.68 L280.00,852.76 L281.00,859.41 L282.00,865.79 L283.00,872.00 L284.00,878.06 L285.00,883.96 L286.00,889.72 L287.00,895.39 L288.00,900.94 L289.00,906.36 L290.00,911.70 L291.00,917.00 L292.00,922.15 L293.00,927.00 L294.00,931.64 L295.00,936.14 L296.00,940.32 L297.00,944.00 L298.00,947.25 L299.00,950.27 L300.00,953.09 L301.00,955.74 L302.00,958.25 L303.00,960.66 L304.00,963.00 L305.00,965.28 L306.00,967.50 L307.00,969.65 L308.00,971.72 L309.00,973.71 L310.00,975.62 L311.00,977.44 L312.00,979.17 L313.00,980.81 L314.00,982.37 L315.00,983.87 L316.00,985.32 L317.00,986.71 L318.00,988.05 L319.00,989.35 L320.00,990.60 L321.00,991.82 L322.00,993.00 L323.00,994.16 L324.00,995.31 L325.00,996.43 L326.00,997.54 L327.00,998.62 L328.00,999.67 L329.00,1000.69 L330.00,1001.67 L331.00,1002.61 L332.00,1003.52 L333.00,1004.38 L334.00,1005.19 L335.00,1005.96 L336.00,1006.69 L337.00,1007.41 L338.00,1008.10 L339.00,1008.77 L340.00,1009.42 L341.00,1010.06 L342.00,1010.67 L343.00,1011.26 L344.00,1011.84 L345.00,1012.40 L346.00,1012.95 L347.00,1013.48 L348.00,1014.00 L349.00,1014.50 L350.00,1015.00 L351.00,1015.49 L352.00,1015.96 L353.00,1016.42 L354.00,1016.88 L355.00,1017.32 L356.00,1017.76 L357.00,1018.18 L358.00,1018.59 L359.00,1019.00 L360.00,1019.40 L361.00,1019.78 L362.00,1020.16 L363.00,1020.53 L364.00,1020.89 L365.00,1021.25 L366.00,1021.60 L367.00,1021.93 L368.00,1022.27 L369.00,1022.60 L370.00,1022.92 L371.00,1023.23 L372.00,1023.54 L373.00,1023.85 L374.00,1024.14 L375.00,1024.44 L376.00,1024.72 L377.00,1025.00 L378.00,1025.28 L379.00,1025.55 L380.00,1025.81 L381.00,1026.07 L382.00,1026.32 L383.00,1026.56 L384.00,1026.80 L385.00,1027.03 L386.00,1027.26 L387.00,1027.49 L388.00,1027.71 L389.00,1027.93 L390.00,1028.14 L391.00,1028.35 L392.00,1028.55 L393.00,1028.75 L394.00,1028.95 L395.00,1029.14 L396.00,1029.33 L397.00,1029.52 L398.00,1029.70 L399.00,1029.88 L400.00,1030.06 L401.00,1030.23 L402.00,1030.40 L403.00,1030.57 L404.00,1030.74 L405.00,1030.90 L406.00,1031.07 L407.00,1031.23 L408.00,1031.40 L409.00,1031.56 L410.00,1031.72 L411.00,1031.88 L412.00,1032.04 L413.00,1032.20 L414.00,1032.35 L415.00,1032.51 L416.00,1032.66 L417.00,1032.81 L418.00,1032.96 L419.00,1033.11 L420.00,1033.25 L421.00,1033.40 L422.00,1033.54 L423.00,1033.68 L424.00,1033.81 L425.00,1033.95 L426.00,1034.08 L427.00,1034.21 L428.00,1034.34 L429.00,1034.47 L430.00,1034.59 L431.00,1034.71 L432.00,1034.83 L433.00,1034.94 L434.00,1035.05 L435.00,1035.16 L436.00,1035.27 L437.00,1035.37 L438.00,1035.47 L439.00,1035.57 L440.00,1035.66 L441.00,1035.75 L442.00,1035.85 L443.00,1035.94 L444.00,1036.02 L445.00,1036.11 L446.00,1036.19 L447.00,1036.28 L448.00,1036.36 L449.00,1036.44 L450.00,1036.52 L451.00,1036.59 L452.00,1036.67 L453.00,1036.75 L454.00,1036.82 L455.00,1036.89 L456.00,1036.96 L457.00,1037.04 L458.00,1037.11 L459.00,1037.17 L460.00,1037.24 L461.00,1037.31 L462.00,1037.38 L463.00,1037.44 L464.00,1037.51 L465.00,1037.58 L466.00,1037.64 L467.00,1037.70 L468.00,1037.77 L469.00,1037.83 L470.00,1037.90 L471.00,1037.96 L472.00,1038.02 L473.00,1038.09 L474.00,1038.15 L475.00,1038.21 L476.00,1038.28 L477.00,1038.34 L478.00,1038.40 L479.00,1038.46 L480.00,1038.52 L481.00,1038.59 L482.00,1038.65 L483.00,1038.71 L484.00,1038.77 L485.00,1038.83 L486.00,1038.89 L487.00,1038.94 L488.00,1039.00 L489.00,1039.06 L490.00,1039.12 L491.00,1039.17 L492.00,1039.23 L493.00,1039.29 L494.00,1039.34 L495.00,1039.40 L496.00,1039.45 L497.00,1039.51 L498.00,1039.56 L499.00,1039.61 L500.00,1039.66 L501.00,1039.72 L502.00,1039.77 L503.00,1039.82 L504.00,1039.87 L505.00,1039.92 L506.00,1039.97 L507.00,1040.01 L508.00,1040.06 L509.00,1040.11 L510.00,1040.15 L511.00,1040.20 L512.00,1040.25 L513.00,1040.29 L514.00,1040.33 L515.00,1040.38 L516.00,1040.42 L517.00,1040.46 L518.00,1040.51 L519.00,1040.55 L520.00,1040.59 L521.00,1040.63 L522.00,1040.67 L523.00,1040.71 L524.00,1040.75 L525.00,1040.79 L526.00,1040.83 L527.00,1040.87 L528.00,1040.91 L529.00,1040.95 L530.00,1040.98 L531.00,1041.02 L532.00,1041.06 L533.00,1041.10 L534.00,1041.13 L535.00,1041.17 L536.00,1041.20 L537.00,1041.24 L538.00,1041.28 L539.00,1041.31 L540.00,1041.35 L541.00,1041.38 L542.00,1041.41 L543.00,1041.45 L544.00,1041.48 L545.00,1041.52 L546.00,1041.55 L547.00,1041.58 L548.00,1041.62 L549.00,1041.65 L550.00,1041.68 L551.00,1041.71 L552.00,1041.75 L553.00,1041.78 L554.00,1041.81 L555.00,1041.84 L556.00,1041.87 L557.00,1041.90 L558.00,1041.93 L559.00,1041.96 L560.00,1041.99 L561.00,1042.02 L562.00,1042.05 L563.00,1042.07 L564.00,1042.10 L565.00,1042.13 L566.00,1042.16 L567.00,1042.18 L567.60,1042.20" stroke="#1a1a1a" stroke-width="3" stroke-dasharray="17 19" stroke-dashoffset="8"/>
<path d="M72.00,1016.60 L73.00,1016.60 L74.00,1016.60 L75.00,1016.59 L76.00,1016.59 L77.00,1016.58 L78.00,1016.58 L79.00,1016.57 L80.00,1016.56 L81.00,1016.55 L82.00,1016.54 L83.00,1016.53 L84.00,1016.52 L85.00,1016.50 L86.00,1016.49 L87.00,1016.47 L88.00,1016.46 L89.00,1016.44 L90.00,1016.42 L91.00,1016.40 L92.00,1016.39 L93.00,1016.36 L94.00,1016.34 L95.00,1016.32 L96.00,1016.30 L97.00,1016.28 L98.00,1016.25 L99.00,1016.23 L100.00,1016.20 L101.00,1016.17 L102.00,1016.15 L103.00,1016.12 L104.00,1016.09 L105.00,1016.06 L106.00,1016.04 L107.00,1016.01 L108.00,1015.98 L109.00,1015.95 L110.00,1015.92 L111.00,1015.88 L112.00,1015.85 L113.00,1015.82 L114.00,1015.79 L115.00,1015.76 L116.00,1015.72 L117.00,1015.69 L118.00,1015.65 L119.00,1015.62 L120.00,1015.59 L121.00,1015.55 L122.00,1015.52 L123.00,1015.48 L124.00,1015.45 L125.00,1015.41 L126.00,1015.38 L127.00,1015.34 L128.00,1015.31 L129.00,1015.27 L130.00,1015.24 L131.00,1015.20 L132.00,1015.16 L133.00,1015.12 L134.00,1015.08 L135.00,1015.04 L136.00,1015.00 L137.00,1014.95 L138.00,1014.90 L139.00,1014.85 L140.00,1014.80 L141.00,1014.75 L142.00,1014.69 L143.00,1014.64 L144.00,1014.58 L145.00,1014.52 L146.00,1014.46 L147.00,1014.40 L148.00,1014.33 L149.00,1014.27 L150.00,1014.20 L151.00,1014.14 L152.00,1014.07 L153.00,1014.00 L154.00,1013.93 L155.00,1013.86 L156.00,1013.78 L157.00,1013.71 L158.00,1013.64 L159.00,1013.56 L160.00,1013.49 L161.00,1013.41 L162.00,1013.33 L163.00,1013.25 L164.00,1013.18 L165.00,1013.10 L166.00,1013.02 L167.00,1012.94 L168.00,1012.86 L169.00,1012.78 L170.00,1012.70 L171.00,1012.62 L172.00,1012.54 L173.00,1012.46 L174.00,1012.37 L175.00,1012.29 L176.00,1012.21 L177.00,1012.13 L178.00,1012.05 L179.00,1011.97 L180.00,1011.89 L181.00,1011.81 L182.00,1011.73 L183.00,1011.65 L184.00,1011.57 L185.00,1011.49 L186.00,1011.41 L187.00,1011.33 L188.00,1011.25 L189.00,1011.17 L190.00,1011.09 L191.00,1011.01 L192.00,1010.93 L193.00,1010.85 L194.00,1010.77 L195.00,1010.68 L196.00,1010.60 L197.00,1010.51 L198.00,1010.42 L199.00,1010.33 L200.00,1010.24 L201.00,1010.15 L202.00,1010.05 L203.00,1009.96 L204.00,1009.86 L205.00,1009.75 L206.00,1009.65 L207.00,1009.54 L208.00,1009.43 L209.00,1009.32 L210.00,1009.20 L211.00,1009.10 L212.00,1009.01 L212.25,1008.99 L212.50,1008.97 L212.75,1008.95 L213.00,1008.93 L213.25,1008.91 L213.50,1008.88 L213.75,1008.86 L214.00,1008.83 L214.25,1008.81 L214.50,1008.78 L214.75,1008.74 L215.00,1008.71 L215.25,1008.67 L215.50,1008.63 L215.75,1008.59 L216.00,1008.54 L216.25,1008.49 L216.50,1008.43 L216.75,1008.37 L217.00,1008.31 L217.25,1008.24 L217.50,1008.17 L217.75,1008.09 L218.00,1008.00 L218.25,1007.40 L218.50,1005.84 L218.75,1003.40 L219.00,1000.14 L219.25,996.16 L219.50,991.53 L219.75,986.33 L220.00,980.63 L220.25,974.52 L220.50,968.07 L220.75,961.37 L221.00,953.31 L221.25,941.84 L221.50,927.47 L221.75,910.82 L222.00,892.46 L222.25,872.99 L222.50,853.02 L222.75,833.14 L223.00,813.95 L223.25,796.04 L223.50,780.00 L223.75,764.89 L224.00,749.51 L224.25,734.09 L224.50,718.87 L224.75,704.09 L225.00,689.99 L225.25,676.79 L225.50,664.73 L225.75,654.06 L226.00,645.00 L226.25,636.62 L226.50,628.23 L226.75,620.41 L227.00,613.74 L227.25,608.83 L227.50,606.25 L227.75,606.00 L228.00,606.00 L228.25,606.00 L228.50,606.00 L228.75,606.00 L229.00,606.00 L229.25,606.00 L229.50,606.00 L229.75,609.35 L230.00,627.23 L230.25,655.25 L230.50,687.36 L230.75,723.44 L231.00,773.45 L231.25,814.96 L231.50,836.09 L231.75,852.73 L232.00,864.59 L232.25,870.84 L232.50,874.63 L232.75,877.81 L233.00,880.45 L233.25,882.63 L233.50,884.42 L233.75,885.90 L234.00,887.14 L234.25,888.21 L234.50,889.21 L234.75,890.19 L235.00,891.13 L235.25,892.02 L235.50,892.87 L235.75,893.66 L236.00,894.40 L236.25,895.07 L236.50,895.67 L236.75,896.20 L237.00,896.66 L237.25,897.03 L237.50,897.31 L237.75,897.50 L238.00,897.59 L238.25,897.59 L238.50,897.56 L238.75,897.48 L239.00,897.38 L239.25,897.25 L239.50,897.09 L239.75,896.91 L240.00,896.70 L240.25,896.46 L240.50,896.21 L240.75,895.93 L241.00,895.64 L241.25,895.33 L241.50,895.01 L241.75,894.67 L242.00,894.33 L242.25,893.97 L242.50,893.60 L242.75,893.23 L243.00,892.86 L243.25,892.48 L243.50,892.07 L243.75,891.60 L244.00,891.07 L244.25,890.47 L244.50,889.83 L244.75,889.13 L245.00,888.38 L246.00,885.03 L247.00,881.31 L248.00,877.51 L249.00,873.85 L250.00,870.11 L251.00,866.21 L252.00,862.13 L253.00,857.90 L254.00,853.51 L255.00,848.98 L256.00,844.27 L257.00,839.36 L258.00,834.20 L259.00,828.76 L260.00,822.86 L261.00,816.45 L262.00,809.80 L263.00,803.20 L264.00,795.82 L265.00,788.83 L266.00,785.07 L267.00,782.58 L268.00,780.86 L269.00,780.31 L270.00,780.93 L271.00,782.41 L272.00,784.45 L273.00,788.00 L274.00,794.12 L275.00,800.52 L276.00,807.03 L277.00,813.91 L278.00,820.83 L279.00,827.44 L280.00,833.81 L281.00,840.07 L282.00,846.28 L283.00,852.50 L284.00,858.82 L285.00,864.97 L286.00,870.65 L287.00,875.96 L288.00,881.01 L289.00,885.83 L290.00,890.45 L291.00,894.87 L292.00,899.10 L293.00,903.20 L294.00,907.22 L295.00,911.20 L296.00,915.20 L297.00,919.18 L298.00,923.10 L299.00,926.92 L300.00,930.59 L301.00,934.07 L302.00,937.45 L303.00,940.72 L304.00,943.90 L305.00,946.98 L306.00,949.96 L307.00,952.86 L308.00,955.68 L309.00,958.43 L310.00,961.07 L311.00,963.60 L312.00,966.00 L313.00,968.27 L314.00,970.44 L315.00,972.49 L316.00,974.44 L317.00,976.30 L318.00,978.11 L319.00,979.88 L320.00,981.59 L321.00,983.22 L322.00,984.76 L323.00,986.19 L324.00,987.52 L325.00,988.75 L326.00,989.92 L327.00,991.03 L328.00,992.08 L329.00,993.09 L330.00,994.06 L331.00,995.00 L332.00,995.91 L333.00,996.80 L334.00,997.66 L335.00,998.50 L336.00,999.31 L337.00,1000.10 L338.00,1000.87 L339.00,1001.62 L340.00,1002.35 L341.00,1003.05 L342.00,1003.74 L343.00,1004.41 L344.00,1005.06 L345.00,1005.69 L346.00,1006.31 L347.00,1006.91 L348.00,1007.50 L349.00,1008.07 L350.00,1008.64 L351.00,1009.20 L352.00,1009.76 L353.00,1010.31 L354.00,1010.85 L355.00,1011.40 L356.00,1011.93 L357.00,1012.46 L358.00,1012.97 L359.00,1013.47 L360.00,1013.95 L361.00,1014.40 L362.00,1014.83 L363.00,1015.24 L364.00,1015.64 L365.00,1016.02 L366.00,1016.40 L367.00,1016.75 L368.00,1017.10 L369.00,1017.43 L370.00,1017.75 L371.00,1018.06 L372.00,1018.35 L373.00,1018.63 L374.00,1018.89 L375.00,1019.14 L376.00,1019.39 L377.00,1019.62 L378.00,1019.85 L379.00,1020.07 L380.00,1020.28 L381.00,1020.49 L382.00,1020.69 L383.00,1020.90 L384.00,1021.10 L385.00,1021.29 L386.00,1021.49 L387.00,1021.69 L388.00,1021.89 L389.00,1022.09 L390.00,1022.30 L391.00,1022.51 L392.00,1022.72 L393.00,1022.92 L394.00,1023.13 L395.00,1023.34 L396.00,1023.54 L397.00,1023.74 L398.00,1023.95 L399.00,1024.14 L400.00,1024.34 L401.00,1024.53 L402.00,1024.72 L403.00,1024.91 L404.00,1025.10 L405.00,1025.28 L406.00,1025.47 L407.00,1025.65 L408.00,1025.83 L409.00,1026.01 L410.00,1026.19 L411.00,1026.36 L412.00,1026.54 L413.00,1026.71 L414.00,1026.88 L415.00,1027.05 L416.00,1027.23 L417.00,1027.39 L418.00,1027.56 L419.00,1027.73 L420.00,1027.90 L421.00,1028.06 L422.00,1028.23 L423.00,1028.39 L424.00,1028.55 L425.00,1028.72 L426.00,1028.88 L427.00,1029.04 L428.00,1029.21 L429.00,1029.37 L430.00,1029.53 L431.00,1029.70 L432.00,1029.86 L433.00,1030.02 L434.00,1030.19 L435.00,1030.35 L436.00,1030.50 L437.00,1030.66 L438.00,1030.82 L439.00,1030.97 L440.00,1031.12 L441.00,1031.26 L442.00,1031.41 L443.00,1031.55 L444.00,1031.68 L445.00,1031.81 L446.00,1031.94 L447.00,1032.06 L448.00,1032.18 L449.00,1032.30 L450.00,1032.41 L451.00,1032.52 L452.00,1032.63 L453.00,1032.74 L454.00,1032.84 L455.00,1032.94 L456.00,1033.05 L457.00,1033.14 L458.00,1033.24 L459.00,1033.34 L460.00,1033.43 L461.00,1033.52 L462.00,1033.62 L463.00,1033.71 L464.00,1033.80 L465.00,1033.88 L466.00,1033.97 L467.00,1034.06 L468.00,1034.15 L469.00,1034.23 L470.00,1034.32 L471.00,1034.40 L472.00,1034.48 L473.00,1034.57 L474.00,1034.65 L475.00,1034.72 L476.00,1034.80 L477.00,1034.88 L478.00,1034.95 L479.00,1035.03 L480.00,1035.10 L481.00,1035.18 L482.00,1035.25 L483.00,1035.32 L484.00,1035.40 L485.00,1035.47 L486.00,1035.54 L487.00,1035.61 L488.00,1035.69 L489.00,1035.76 L490.00,1035.84 L491.00,1035.91 L492.00,1035.98 L493.00,1036.06 L494.00,1036.14 L495.00,1036.22 L496.00,1036.30 L497.00,1036.38 L498.00,1036.46 L499.00,1036.54 L500.00,1036.62 L501.00,1036.70 L502.00,1036.78 L503.00,1036.86 L504.00,1036.94 L505.00,1037.02 L506.00,1037.10 L507.00,1037.17 L508.00,1037.25 L509.00,1037.32 L510.00,1037.39 L511.00,1037.46 L512.00,1037.53 L513.00,1037.59 L514.00,1037.66 L515.00,1037.72 L516.00,1037.78 L517.00,1037.83 L518.00,1037.89 L519.00,1037.95 L520.00,1038.00 L521.00,1038.05 L522.00,1038.10 L523.00,1038.16 L524.00,1038.21 L525.00,1038.26 L526.00,1038.30 L527.00,1038.35 L528.00,1038.40 L529.00,1038.45 L530.00,1038.49 L531.00,1038.54 L532.00,1038.58 L533.00,1038.62 L534.00,1038.67 L535.00,1038.71 L536.00,1038.75 L537.00,1038.80 L538.00,1038.84 L539.00,1038.88 L540.00,1038.92 L541.00,1038.96 L542.00,1039.00 L543.00,1039.04 L544.00,1039.08 L545.00,1039.12 L546.00,1039.16 L547.00,1039.20 L548.00,1039.24 L549.00,1039.28 L550.00,1039.31 L551.00,1039.35 L552.00,1039.39 L553.00,1039.42 L554.00,1039.46 L555.00,1039.50 L556.00,1039.53 L557.00,1039.57 L558.00,1039.60 L559.00,1039.63 L560.00,1039.67 L561.00,1039.70 L562.00,1039.73 L563.00,1039.76 L564.00,1039.79 L565.00,1039.82 L566.00,1039.85 L567.00,1039.88 L567.60,1039.90" stroke="#151515" stroke-width="2.9"/>
<path d="M72.00,1015.80 L73.00,1015.79 L74.00,1015.77 L75.00,1015.76 L76.00,1015.74 L77.00,1015.72 L78.00,1015.71 L79.00,1015.69 L80.00,1015.67 L81.00,1015.65 L82.00,1015.63 L83.00,1015.61 L84.00,1015.59 L85.00,1015.57 L86.00,1015.55 L87.00,1015.53 L88.00,1015.50 L89.00,1015.48 L90.00,1015.46 L91.00,1015.43 L92.00,1015.41 L93.00,1015.38 L94.00,1015.36 L95.00,1015.33 L96.00,1015.31 L97.00,1015.28 L98.00,1015.25 L99.00,1015.23 L100.00,1015.20 L101.00,1015.17 L102.00,1015.14 L103.00,1015.11 L104.00,1015.08 L105.00,1015.05 L106.00,1015.02 L107.00,1014.98 L108.00,1014.95 L109.00,1014.91 L110.00,1014.87 L111.00,1014.84 L112.00,1014.80 L113.00,1014.76 L114.00,1014.72 L115.00,1014.68 L116.00,1014.64 L117.00,1014.60 L118.00,1014.56 L119.00,1014.52 L120.00,1014.47 L121.00,1014.43 L122.00,1014.39 L123.00,1014.35 L124.00,1014.30 L125.00,1014.26 L126.00,1014.22 L127.00,1014.17 L128.00,1014.13 L129.00,1014.09 L130.00,1014.04 L131.00,1014.00 L132.00,1013.96 L133.00,1013.91 L134.00,1013.87 L135.00,1013.83 L136.00,1013.79 L137.00,1013.74 L138.00,1013.70 L139.00,1013.66 L140.00,1013.61 L141.00,1013.57 L142.00,1013.53 L143.00,1013.48 L144.00,1013.44 L145.00,1013.39 L146.00,1013.35 L147.00,1013.30 L148.00,1013.25 L149.00,1013.20 L150.00,1013.15 L151.00,1013.10 L152.00,1013.05 L153.00,1013.00 L154.00,1012.95 L155.00,1012.89 L156.00,1012.84 L157.00,1012.78 L158.00,1012.72 L159.00,1012.66 L160.00,1012.60 L161.00,1012.54 L162.00,1012.47 L163.00,1012.40 L164.00,1012.33 L165.00,1012.25 L166.00,1012.18 L167.00,1012.10 L168.00,1012.02 L169.00,1011.93 L170.00,1011.85 L171.00,1011.76 L172.00,1011.67 L173.00,1011.58 L174.00,1011.49 L175.00,1011.40 L176.00,1011.31 L177.00,1011.22 L178.00,1011.12 L179.00,1011.03 L180.00,1010.94 L181.00,1010.84 L182.00,1010.75 L183.00,1010.66 L184.00,1010.56 L185.00,1010.47 L186.00,1010.37 L187.00,1010.28 L188.00,1010.18 L189.00,1010.08 L190.00,1009.99 L191.00,1009.89 L192.00,1009.79 L193.00,1009.69 L194.00,1009.58 L195.00,1009.48 L196.00,1009.38 L197.00,1009.27 L198.00,1009.17 L199.00,1009.06 L200.00,1008.95 L201.00,1008.84 L202.00,1008.73 L203.00,1008.62 L204.00,1008.51 L205.00,1008.40 L206.00,1008.30 L207.00,1008.22 L208.00,1008.15 L209.00,1008.09 L210.00,1008.03 L211.00,1007.97 L212.00,1007.89 L212.25,1007.86 L212.50,1007.84 L212.75,1007.82 L213.00,1007.79 L213.25,1007.76 L213.50,1007.73 L213.75,1007.70 L214.00,1007.67 L214.25,1007.63 L214.50,1007.60 L214.75,1007.56 L215.00,1007.51 L215.25,1007.47 L215.50,1007.42 L215.75,1007.37 L216.00,1007.32 L216.25,1007.27 L216.50,1007.21 L216.75,1007.15 L217.00,1007.09 L217.25,1007.02 L217.50,1006.95 L217.75,1006.88 L218.00,1006.80 L218.25,1006.05 L218.50,1004.04 L218.75,1000.91 L219.00,996.82 L219.25,991.91 L219.50,986.32 L219.75,980.18 L220.00,973.66 L220.25,966.88 L220.50,960.00 L220.75,951.90 L221.00,941.56 L221.25,929.28 L221.50,915.35 L221.75,900.07 L222.00,883.73 L222.25,866.63 L222.50,849.06 L222.75,831.31 L223.00,813.68 L223.25,796.46 L223.50,779.96 L223.75,764.45 L224.00,750.24 L224.25,737.58 L224.50,725.37 L224.75,713.15 L225.00,701.11 L225.25,689.41 L225.50,678.24 L225.75,667.79 L226.00,658.23 L226.25,649.74 L226.50,642.50 L226.75,636.39 L227.00,630.36 L227.25,624.50 L227.50,619.05 L227.75,614.25 L228.00,610.34 L228.25,607.55 L228.50,606.13 L228.75,606.00 L229.00,606.00 L229.25,606.00 L229.50,606.00 L229.75,606.00 L230.00,606.00 L230.25,606.00 L230.50,611.51 L230.75,631.14 L231.00,660.11 L231.25,693.31 L231.50,737.59 L231.75,791.72 L232.00,830.35 L232.25,857.67 L232.50,865.87 L232.75,871.52 L233.00,875.55 L233.25,878.28 L233.50,880.00 L233.75,881.22 L234.00,882.25 L234.25,883.13 L234.50,883.86 L234.75,884.48 L235.00,884.99 L235.25,885.43 L235.50,885.80 L235.75,886.14 L236.00,886.48 L236.25,886.80 L236.50,887.11 L236.75,887.40 L237.00,887.68 L237.25,887.94 L237.50,888.17 L237.75,888.39 L238.00,888.58 L238.25,888.74 L238.50,888.88 L238.75,888.98 L239.00,889.05 L239.25,889.09 L239.50,889.10 L239.75,889.08 L240.00,889.04 L240.25,888.98 L240.50,888.91 L240.75,888.81 L241.00,888.70 L241.25,888.58 L241.50,888.44 L241.75,888.28 L242.00,888.12 L242.25,887.94 L242.50,887.75 L242.75,887.55 L243.00,887.35 L243.25,887.14 L243.50,886.92 L243.75,886.69 L244.00,886.46 L244.25,886.23 L244.50,885.99 L244.75,885.75 L245.00,885.48 L246.00,884.03 L247.00,882.09 L248.00,879.84 L249.00,877.45 L250.00,875.07 L251.00,872.60 L252.00,869.95 L253.00,867.15 L254.00,864.25 L255.00,861.30 L256.00,858.28 L257.00,855.14 L258.00,851.90 L259.00,848.60 L260.00,845.25 L261.00,841.87 L262.00,838.47 L263.00,835.00 L264.00,831.45 L265.00,827.78 L266.00,823.91 L267.00,819.62 L268.00,815.08 L269.00,810.59 L270.00,806.43 L271.00,802.88 L272.00,799.61 L273.00,796.56 L274.00,794.09 L275.00,792.57 L276.00,791.51 L277.00,790.87 L278.00,790.92 L279.00,791.56 L280.00,792.62 L281.00,793.94 L282.00,795.57 L283.00,798.16 L284.00,801.50 L285.00,805.22 L286.00,809.00 L287.00,812.90 L288.00,817.18 L289.00,821.75 L290.00,826.54 L291.00,831.56 L292.00,837.07 L293.00,842.80 L294.00,848.40 L295.00,853.66 L296.00,858.79 L297.00,863.79 L298.00,868.64 L299.00,873.31 L300.00,877.80 L301.00,882.16 L302.00,886.45 L303.00,890.72 L304.00,895.02 L305.00,899.34 L306.00,903.64 L307.00,907.82 L308.00,911.84 L309.00,915.67 L310.00,919.42 L311.00,923.07 L312.00,926.57 L313.00,929.89 L314.00,933.00 L315.00,935.82 L316.00,938.43 L317.00,941.00 L318.00,943.65 L319.00,946.34 L320.00,948.99 L321.00,951.53 L322.00,953.90 L323.00,956.03 L324.00,958.02 L325.00,959.92 L326.00,961.73 L327.00,963.46 L328.00,965.12 L329.00,966.73 L330.00,968.28 L331.00,969.80 L332.00,971.28 L333.00,972.74 L334.00,974.16 L335.00,975.54 L336.00,976.89 L337.00,978.19 L338.00,979.45 L339.00,980.67 L340.00,981.84 L341.00,982.96 L342.00,984.03 L343.00,985.06 L344.00,986.05 L345.00,987.01 L346.00,987.93 L347.00,988.83 L348.00,989.70 L349.00,990.55 L350.00,991.38 L351.00,992.19 L352.00,992.98 L353.00,993.75 L354.00,994.50 L355.00,995.23 L356.00,995.94 L357.00,996.63 L358.00,997.31 L359.00,997.98 L360.00,998.64 L361.00,999.30 L362.00,999.94 L363.00,1000.59 L364.00,1001.24 L365.00,1001.89 L366.00,1002.54 L367.00,1003.18 L368.00,1003.80 L369.00,1004.41 L370.00,1004.99 L371.00,1005.54 L372.00,1006.06 L373.00,1006.55 L374.00,1007.00 L375.00,1007.44 L376.00,1007.85 L377.00,1008.26 L378.00,1008.64 L379.00,1009.02 L380.00,1009.39 L381.00,1009.74 L382.00,1010.09 L383.00,1010.44 L384.00,1010.77 L385.00,1011.11 L386.00,1011.44 L387.00,1011.78 L388.00,1012.12 L389.00,1012.46 L390.00,1012.80 L391.00,1013.15 L392.00,1013.50 L393.00,1013.84 L394.00,1014.19 L395.00,1014.53 L396.00,1014.87 L397.00,1015.21 L398.00,1015.54 L399.00,1015.86 L400.00,1016.18 L401.00,1016.49 L402.00,1016.78 L403.00,1017.07 L404.00,1017.36 L405.00,1017.64 L406.00,1017.91 L407.00,1018.19 L408.00,1018.46 L409.00,1018.73 L410.00,1018.99 L411.00,1019.25 L412.00,1019.51 L413.00,1019.76 L414.00,1020.01 L415.00,1020.26 L416.00,1020.50 L417.00,1020.74 L418.00,1020.98 L419.00,1021.21 L420.00,1021.44 L421.00,1021.66 L422.00,1021.88 L423.00,1022.10 L424.00,1022.31 L425.00,1022.52 L426.00,1022.73 L427.00,1022.93 L428.00,1023.13 L429.00,1023.33 L430.00,1023.53 L431.00,1023.72 L432.00,1023.91 L433.00,1024.10 L434.00,1024.29 L435.00,1024.47 L436.00,1024.65 L437.00,1024.83 L438.00,1025.01 L439.00,1025.18 L440.00,1025.35 L441.00,1025.52 L442.00,1025.68 L443.00,1025.84 L444.00,1026.00 L445.00,1026.15 L446.00,1026.31 L447.00,1026.46 L448.00,1026.60 L449.00,1026.75 L450.00,1026.89 L451.00,1027.03 L452.00,1027.16 L453.00,1027.30 L454.00,1027.43 L455.00,1027.56 L456.00,1027.69 L457.00,1027.81 L458.00,1027.94 L459.00,1028.06 L460.00,1028.18 L461.00,1028.30 L462.00,1028.42 L463.00,1028.53 L464.00,1028.65 L465.00,1028.76 L466.00,1028.88 L467.00,1028.99 L468.00,1029.10 L469.00,1029.21 L470.00,1029.32 L471.00,1029.43 L472.00,1029.54 L473.00,1029.64 L474.00,1029.74 L475.00,1029.84 L476.00,1029.94 L477.00,1030.04 L478.00,1030.14 L479.00,1030.24 L480.00,1030.33 L481.00,1030.43 L482.00,1030.52 L483.00,1030.62 L484.00,1030.71 L485.00,1030.80 L486.00,1030.90 L487.00,1030.99 L488.00,1031.09 L489.00,1031.19 L490.00,1031.28 L491.00,1031.38 L492.00,1031.48 L493.00,1031.58 L494.00,1031.68 L495.00,1031.79 L496.00,1031.89 L497.00,1032.00 L498.00,1032.10 L499.00,1032.21 L500.00,1032.32 L501.00,1032.42 L502.00,1032.53 L503.00,1032.64 L504.00,1032.75 L505.00,1032.85 L506.00,1032.96 L507.00,1033.06 L508.00,1033.16 L509.00,1033.26 L510.00,1033.36 L511.00,1033.46 L512.00,1033.56 L513.00,1033.65 L514.00,1033.74 L515.00,1033.83 L516.00,1033.91 L517.00,1034.00 L518.00,1034.08 L519.00,1034.16 L520.00,1034.24 L521.00,1034.32 L522.00,1034.39 L523.00,1034.47 L524.00,1034.55 L525.00,1034.62 L526.00,1034.69 L527.00,1034.77 L528.00,1034.84 L529.00,1034.91 L530.00,1034.98 L531.00,1035.06 L532.00,1035.13 L533.00,1035.20 L534.00,1035.27 L535.00,1035.35 L536.00,1035.42 L537.00,1035.49 L538.00,1035.57 L539.00,1035.64 L540.00,1035.71 L541.00,1035.79 L542.00,1035.86 L543.00,1035.93 L544.00,1036.01 L545.00,1036.08 L546.00,1036.15 L547.00,1036.23 L548.00,1036.30 L549.00,1036.37 L550.00,1036.45 L551.00,1036.52 L552.00,1036.59 L553.00,1036.66 L554.00,1036.73 L555.00,1036.81 L556.00,1036.88 L557.00,1036.95 L558.00,1037.02 L559.00,1037.09 L560.00,1037.16 L561.00,1037.23 L562.00,1037.31 L563.00,1037.38 L564.00,1037.45 L565.00,1037.52 L566.00,1037.59 L567.00,1037.66 L567.60,1037.70" stroke="#2b33a0" stroke-width="2.9"/>
</g>
<rect x="71.5" y="619.6" width="496.3" height="426.4" fill="none" stroke="#4a4a4a" stroke-width="1.6"/>
<line x1="71.5" y1="1046" x2="567.8" y2="1046" stroke="#2a2a2a" stroke-width="2.6"/>
<line x1="170.76" y1="1046" x2="170.76" y2="1040" stroke="#4a4a4a" stroke-width="1.4"/>
<line x1="170.76" y1="619.6" x2="170.76" y2="625.6" stroke="#4a4a4a" stroke-width="1.4"/>
<line x1="270.02" y1="1046" x2="270.02" y2="1040" stroke="#4a4a4a" stroke-width="1.4"/>
<line x1="270.02" y1="619.6" x2="270.02" y2="625.6" stroke="#4a4a4a" stroke-width="1.4"/>
<line x1="369.28" y1="1046" x2="369.28" y2="1040" stroke="#4a4a4a" stroke-width="1.4"/>
<line x1="369.28" y1="619.6" x2="369.28" y2="625.6" stroke="#4a4a4a" stroke-width="1.4"/>
<line x1="468.54" y1="1046" x2="468.54" y2="1040" stroke="#4a4a4a" stroke-width="1.4"/>
<line x1="468.54" y1="619.6" x2="468.54" y2="625.6" stroke="#4a4a4a" stroke-width="1.4"/>
<line x1="71.5" y1="985.09" x2="77.5" y2="985.09" stroke="#4a4a4a" stroke-width="1.4"/>
<line x1="561.8" y1="985.09" x2="567.8" y2="985.09" stroke="#4a4a4a" stroke-width="1.4"/>
<line x1="71.5" y1="924.17" x2="77.5" y2="924.17" stroke="#4a4a4a" stroke-width="1.4"/>
<line x1="561.8" y1="924.17" x2="567.8" y2="924.17" stroke="#4a4a4a" stroke-width="1.4"/>
<line x1="71.5" y1="863.26" x2="77.5" y2="863.26" stroke="#4a4a4a" stroke-width="1.4"/>
<line x1="561.8" y1="863.26" x2="567.8" y2="863.26" stroke="#4a4a4a" stroke-width="1.4"/>
<line x1="71.5" y1="802.34" x2="77.5" y2="802.34" stroke="#4a4a4a" stroke-width="1.4"/>
<line x1="561.8" y1="802.34" x2="567.8" y2="802.34" stroke="#4a4a4a" stroke-width="1.4"/>
<line x1="71.5" y1="741.43" x2="77.5" y2="741.43" stroke="#4a4a4a" stroke-width="1.4"/>
<line x1="561.8" y1="741.43" x2="567.8" y2="741.43" stroke="#4a4a4a" stroke-width="1.4"/>
<line x1="71.5" y1="680.51" x2="77.5" y2="680.51" stroke="#4a4a4a" stroke-width="1.4"/>
<line x1="561.8" y1="680.51" x2="567.8" y2="680.51" stroke="#4a4a4a" stroke-width="1.4"/>
<line x1="71.6" y1="1046" x2="71.6" y2="969" stroke="#262626" stroke-width="2.4"/><polygon points="71.6,959 79.1,983 71.6,977.5 64.1,983" fill="#262626" />
<line x1="271.4" y1="1046" x2="271.4" y2="997" stroke="#262626" stroke-width="2.4"/><polygon points="271.4,987 278.9,1011 271.4,1005.5 263.9,1011" fill="#262626" />
<line x1="468.4" y1="1046" x2="468.4" y2="1010.8" stroke="#262626" stroke-width="2.4"/><polygon points="468.4,1000.8 475.9,1024.8 468.4,1019.3 460.9,1024.8" fill="#262626" />
<rect x="265.8" y="641.5" width="283.7" height="73.3" fill="#fff" stroke="#1a1a1a" stroke-width="2.2"/>
<line x1="274.2" y1="657.7" x2="313.7" y2="657.7" stroke="#1a1a1a" stroke-width="2.4" stroke-dasharray="7.5 5.2"/>
<line x1="274.2" y1="678.7" x2="313.7" y2="678.7" stroke="#1a1a1a" stroke-width="2.4"/>
<line x1="274.2" y1="701.3" x2="313.7" y2="701.3" stroke="#2b33a0" stroke-width="2.4"/></g>
<text font-family="Liberation Serif" transform="translate(6.29,34.9) scale(0.9495,1)" font-size="42.73" font-style="normal" font-weight="bold" fill="#000">A</text>
<text font-family="Liberation Serif" transform="translate(147.55,63.26) scale(1.1084,1)" font-size="22.56" font-style="normal" font-weight="normal" fill="#9dc42a"><tspan font-style="italic">E</tspan> (<tspan font-style="italic">x</tspan>)</text>
<text font-family="Liberation Serif" transform="translate(33.85,164.1) scale(1.0689,1)" font-size="23.33" font-style="normal" font-weight="normal" fill="#2b9bd9"><tspan font-style="italic">k</tspan> (<tspan font-style="italic">z</tspan>)</text>
<text font-family="Liberation Serif" transform="translate(61.57,545.16) scale(1.0370,1)" font-size="32.11" font-style="normal" font-weight="normal" fill="#000">Glass</text>
<text font-family="Liberation Serif" transform="translate(186.01,545.8) scale(0.9556,1)" font-size="34.55" font-style="normal" font-weight="normal" fill="#000">PMMA</text>
<text font-family="Liberation Serif" transform="translate(337.11,545.41) scale(1.0045,1)" font-size="34.48" font-style="normal" font-weight="normal" fill="#000">Cr</text>
<text font-family="Liberation Serif" transform="translate(434.18,545.8) scale(0.9641,1)" font-size="33.04" font-style="normal" font-weight="normal" fill="#000">Al</text>
<text font-family="Liberation Serif" transform="translate(531.83,545.8) scale(0.9199,1)" font-size="35.08" font-style="normal" font-weight="normal" fill="#000">PR</text>
<text font-family="Liberation Serif" transform="translate(603.58,34.9) scale(0.9617,1)" font-size="42.77" font-style="normal" font-weight="bold" fill="#000">B</text>
<text font-family="Liberation Serif" transform="translate(647.12,54.41) scale(1.0600,1)" font-size="34.63" font-style="normal" font-weight="normal" fill="#000">0</text>
<text font-family="Liberation Serif" transform="translate(623.01,188.22) scale(1.0055,1)" font-size="34.12" font-style="normal" font-weight="normal" fill="#000">100</text>
<text font-family="Liberation Serif" transform="translate(623.28,369.61) scale(0.9559,1)" font-size="34.63" font-style="normal" font-weight="normal" fill="#000">200</text>
<text font-family="Liberation Serif" transform="translate(671.02,527.41) scale(1.0600,1)" font-size="34.63" font-style="normal" font-weight="normal" fill="#000">0</text>
<text font-family="Liberation Serif" transform="translate(785.91,527.42) scale(1.0055,1)" font-size="34.12" font-style="normal" font-weight="normal" fill="#000">100</text>
<text font-family="Liberation Serif" transform="translate(923.08,527.41) scale(0.9559,1)" font-size="34.63" font-style="normal" font-weight="normal" fill="#000">200</text>
<text font-family="Liberation Serif" transform="translate(1039.23,527.41) scale(0.9626,1)" font-size="34.63" font-style="normal" font-weight="normal" fill="#000">300</text>
<text font-family="Liberation Serif" transform="translate(1148.25,80.8) scale(0.9194,1)" font-size="35.23" font-style="normal" font-weight="normal" fill="#000">4</text>
<text font-family="Liberation Serif" transform="translate(1147.22,475.91) scale(1.0600,1)" font-size="34.63" font-style="normal" font-weight="normal" fill="#000">0</text>
<text font-family="Liberation Serif" transform="translate(874.44,559.5) scale(1.0715,1)" font-size="31.44" font-style="normal" font-weight="normal" fill="#000"><tspan font-style="italic">x</tspan> (nm)</text>
<text font-family="Liberation Serif" transform="translate(618.5,304.07) rotate(-90) scale(1.0538,1)" font-size="31.44" font-style="normal" font-weight="normal" fill="#000"><tspan font-style="italic">z</tspan> (nm)</text>
<text font-family="Liberation Serif" transform="translate(604.15,618) scale(1.0503,1)" font-size="40.31" font-style="normal" font-weight="bold" fill="#000">E</text>
<text font-family="Liberation Serif" transform="translate(648.42,618.41) scale(1.0600,1)" font-size="34.63" font-style="normal" font-weight="normal" fill="#000">0</text>
<text font-family="Liberation Serif" transform="translate(615.51,754.82) scale(1.0055,1)" font-size="34.12" font-style="normal" font-weight="normal" fill="#000">100</text>
<text font-family="Liberation Serif" transform="translate(616.18,933.91) scale(0.9559,1)" font-size="34.63" font-style="normal" font-weight="normal" fill="#000">200</text>
<text font-family="Liberation Serif" transform="translate(672.72,1092.21) scale(1.0600,1)" font-size="34.63" font-style="normal" font-weight="normal" fill="#000">0</text>
<text font-family="Liberation Serif" transform="translate(786.51,1092.22) scale(1.0055,1)" font-size="34.12" font-style="normal" font-weight="normal" fill="#000">100</text>
<text font-family="Liberation Serif" transform="translate(917.08,1092.21) scale(0.9559,1)" font-size="34.63" font-style="normal" font-weight="normal" fill="#000">200</text>
<text font-family="Liberation Serif" transform="translate(1037.03,1092.21) scale(0.9626,1)" font-size="34.63" font-style="normal" font-weight="normal" fill="#000">300</text>
<text font-family="Liberation Serif" transform="translate(1147.75,646.9) scale(0.9256,1)" font-size="35.23" font-style="normal" font-weight="normal" fill="#000">4</text>
<text font-family="Liberation Serif" transform="translate(1147.12,1040.21) scale(1.0600,1)" font-size="34.63" font-style="normal" font-weight="normal" fill="#000">0</text>
<text font-family="Liberation Serif" transform="translate(876.53,1135.36) scale(1.0849,1)" font-size="30.67" font-style="normal" font-weight="normal" fill="#000"><tspan font-style="italic">x</tspan> (nm)</text>
<text font-family="Liberation Serif" transform="translate(602.93,868.97) rotate(-90) scale(1.0354,1)" font-size="31.78" font-style="normal" font-weight="normal" fill="#000"><tspan font-style="italic">z</tspan> (nm)</text>
<text font-family="Liberation Serif" transform="translate(1198.58,34.58) scale(1.0450,1)" font-size="42.42" font-style="normal" font-weight="bold" fill="#000">C</text>
<text font-family="Liberation Serif" transform="translate(1252.22,55.31) scale(1.0600,1)" font-size="34.63" font-style="normal" font-weight="normal" fill="#000">0</text>
<text font-family="Liberation Serif" transform="translate(1219.01,193.82) scale(1.0055,1)" font-size="34.12" font-style="normal" font-weight="normal" fill="#000">100</text>
<text font-family="Liberation Serif" transform="translate(1220.18,330.51) scale(0.9559,1)" font-size="34.63" font-style="normal" font-weight="normal" fill="#000">200</text>
<text font-family="Liberation Serif" transform="translate(1219.83,473.81) scale(0.9626,1)" font-size="34.63" font-style="normal" font-weight="normal" fill="#000">300</text>
<text font-family="Liberation Serif" transform="translate(1272.12,526.41) scale(1.0600,1)" font-size="34.63" font-style="normal" font-weight="normal" fill="#000">0</text>
<text font-family="Liberation Serif" transform="translate(1386.31,526.42) scale(1.0055,1)" font-size="34.12" font-style="normal" font-weight="normal" fill="#000">100</text>
<text font-family="Liberation Serif" transform="translate(1516.98,526.41) scale(0.9559,1)" font-size="34.63" font-style="normal" font-weight="normal" fill="#000">200</text>
<text font-family="Liberation Serif" transform="translate(1636.73,526.41) scale(0.9626,1)" font-size="34.63" font-style="normal" font-weight="normal" fill="#000">300</text>
<text font-family="Liberation Serif" transform="translate(1738.55,80.45) scale(0.9628,1)" font-size="35" font-style="normal" font-weight="normal" fill="#000">2.4</text>
<text font-family="Liberation Serif" transform="translate(1751.02,474.91) scale(1.0600,1)" font-size="34.63" font-style="normal" font-weight="normal" fill="#000">0</text>
<text font-family="Liberation Serif" transform="translate(1475.34,555.49) scale(1.0881,1)" font-size="31" font-style="normal" font-weight="normal" fill="#000"><tspan font-style="italic">x</tspan> (nm)</text>
<text font-family="Liberation Serif" transform="translate(1207.06,297.45) rotate(-90) scale(0.9937,1)" font-size="32.11" font-style="normal" font-weight="normal" fill="#000"><tspan font-style="italic">y</tspan> (nm)</text>
<text font-family="Liberation Serif" transform="translate(1290.39,102.5) scale(0.9821,1)" font-size="25" font-style="normal" font-weight="normal" fill="#003a2a" fill-opacity="0.72">1.8</text>
<text font-family="Liberation Serif" transform="translate(1302.05,222.07) scale(0.8962,1)" font-size="26.57" font-style="normal" font-weight="normal" fill="#003a2a" fill-opacity="0.72">0</text>
<text font-family="Liberation Serif" transform="translate(1322.08,244.53) scale(0.9856,1)" font-size="23.43" font-style="normal" font-weight="normal" fill="#003a2a" fill-opacity="0.72">0</text>
<text font-family="Liberation Serif" transform="translate(1687.74,245.48) scale(0.9666,1)" font-size="26.12" font-style="normal" font-weight="normal" fill="#003a2a" fill-opacity="0.72">360</text>
<text font-family="Liberation Serif" transform="translate(1201.73,618) scale(1.0843,1)" font-size="40.31" font-style="normal" font-weight="bold" fill="#000">F</text>
<text font-family="Liberation Serif" transform="translate(1251.82,622.11) scale(1.0600,1)" font-size="34.63" font-style="normal" font-weight="normal" fill="#000">0</text>
<text font-family="Liberation Serif" transform="translate(1218.81,757.42) scale(1.0055,1)" font-size="34.12" font-style="normal" font-weight="normal" fill="#000">100</text>
<text font-family="Liberation Serif" transform="translate(1220.18,893.81) scale(0.9559,1)" font-size="34.63" font-style="normal" font-weight="normal" fill="#000">200</text>
<text font-family="Liberation Serif" transform="translate(1219.93,1033.41) scale(0.9626,1)" font-size="34.63" font-style="normal" font-weight="normal" fill="#000">300</text>
<text font-family="Liberation Serif" transform="translate(1272.22,1089.71) scale(1.0600,1)" font-size="34.63" font-style="normal" font-weight="normal" fill="#000">0</text>
<text font-family="Liberation Serif" transform="translate(1386.11,1089.72) scale(1.0055,1)" font-size="34.12" font-style="normal" font-weight="normal" fill="#000">100</text>
<text font-family="Liberation Serif" transform="translate(1516.68,1089.71) scale(0.9559,1)" font-size="34.63" font-style="normal" font-weight="normal" fill="#000">200</text>
<text font-family="Liberation Serif" transform="translate(1636.33,1089.71) scale(0.9626,1)" font-size="34.63" font-style="normal" font-weight="normal" fill="#000">300</text>
<text font-family="Liberation Serif" transform="translate(1738.25,646.15) scale(0.9628,1)" font-size="35" font-style="normal" font-weight="normal" fill="#000">2.4</text>
<text font-family="Liberation Serif" transform="translate(1749.32,1040.61) scale(1.0600,1)" font-size="34.63" font-style="normal" font-weight="normal" fill="#000">0</text>
<text font-family="Liberation Serif" transform="translate(1475.34,1133.59) scale(1.0881,1)" font-size="31" font-style="normal" font-weight="normal" fill="#000"><tspan font-style="italic">x</tspan> (nm)</text>
<text font-family="Liberation Serif" transform="translate(1207.21,863.29) rotate(-90) scale(1.0101,1)" font-size="32.33" font-style="normal" font-weight="normal" fill="#000"><tspan font-style="italic">y</tspan> (nm)</text>
<text font-family="Liberation Serif" transform="translate(1287.93,665.49) scale(0.9875,1)" font-size="25.59" font-style="normal" font-weight="normal" fill="#003a2a" fill-opacity="0.72">1.8</text>
<text font-family="Liberation Serif" transform="translate(1299.28,786.44) scale(0.9960,1)" font-size="28.21" font-style="normal" font-weight="normal" fill="#003a2a" fill-opacity="0.72">0</text>
<text font-family="Liberation Serif" transform="translate(1320.73,808.46) scale(0.9040,1)" font-size="26.87" font-style="normal" font-weight="normal" fill="#003a2a" fill-opacity="0.72">0</text>
<text font-family="Liberation Serif" transform="translate(1685.32,808.98) scale(0.9829,1)" font-size="26.12" font-style="normal" font-weight="normal" fill="#003a2a" fill-opacity="0.72">360</text>
<text font-family="Liberation Serif" transform="translate(5.93,618) scale(1.0107,1)" font-size="43.08" font-style="normal" font-weight="bold" fill="#000">D</text>
<text font-family="Liberation Serif" transform="translate(45.12,1053.31) scale(1.0600,1)" font-size="34.63" font-style="normal" font-weight="normal" fill="#000">0</text>
<text font-family="Liberation Serif" transform="translate(45.32,935.1) scale(1.0600,1)" font-size="35.69" font-style="normal" font-weight="normal" fill="#000">2</text>
<text font-family="Liberation Serif" transform="translate(44.94,814.3) scale(1.0600,1)" font-size="35.69" font-style="normal" font-weight="normal" fill="#000">4</text>
<text font-family="Liberation Serif" transform="translate(45.04,690.31) scale(1.0600,1)" font-size="34.63" font-style="normal" font-weight="normal" fill="#000">6</text>
<text font-family="Liberation Serif" transform="translate(63.22,1077.31) scale(1.0600,1)" font-size="34.63" font-style="normal" font-weight="normal" fill="#000">0</text>
<text font-family="Liberation Serif" transform="translate(162.93,1078) scale(1.0600,1)" font-size="35.15" font-style="normal" font-weight="normal" fill="#000">1</text>
<text font-family="Liberation Serif" transform="translate(260.92,1078) scale(1.0600,1)" font-size="35.69" font-style="normal" font-weight="normal" fill="#000">2</text>
<text font-family="Liberation Serif" transform="translate(359.7,1077.65) scale(1.0600,1)" font-size="35.15" font-style="normal" font-weight="normal" fill="#000">3</text>
<text font-family="Liberation Serif" transform="translate(458.74,1078) scale(1.0600,1)" font-size="35.69" font-style="normal" font-weight="normal" fill="#000">4</text>
<text font-family="Liberation Serif" transform="translate(558.21,1077.65) scale(1.0600,1)" font-size="35.15" font-style="normal" font-weight="normal" fill="#000">5</text>
<text font-family="Liberation Serif" transform="translate(321.11,664.63) scale(1.0497,1)" font-size="21.78" font-style="normal" font-weight="normal" fill="#000">RMS 0 nm (TMM)</text>
<text font-family="Liberation Serif" transform="translate(321.11,685.63) scale(1.0525,1)" font-size="21.78" font-style="normal" font-weight="normal" fill="#000">RMS 0 nm (Simulation)</text>
<text font-family="Liberation Serif" transform="translate(321.11,708.63) scale(1.0525,1)" font-size="21.78" font-style="normal" font-weight="normal" fill="#000">RMS 2 nm (Simulation)</text>
<text font-family="Liberation Serif" transform="translate(78.15,953.27) scale(1.0774,1)" font-size="31.27" font-style="normal" font-weight="normal" fill="#000">0th</text>
<text font-family="Liberation Serif" transform="translate(251.42,971.42) scale(1.1728,1)" font-size="28.21" font-style="normal" font-weight="normal" fill="#000">1st</text>
<text font-family="Liberation Serif" transform="translate(442.68,984.67) scale(1.0100,1)" font-size="32.57" font-style="normal" font-weight="normal" fill="#000">2nd</text>
<text font-family="Liberation Serif" transform="translate(21.8,878.86) rotate(-90) scale(1.3663,1)" font-size="25.22" font-style="normal" font-weight="normal" fill="#000">|OTF|</text>
<text font-family="Liberation Serif" transform="translate(288.98,1107.2) scale(1.0186,1)" font-size="33.33" font-style="italic" font-weight="normal" fill="#000">k</text>
<text font-family="Liberation Serif" transform="translate(304.98,1116.8) scale(1.0153,1)" font-size="21.96" font-style="normal" font-weight="normal" fill="#000">x</text>
<text font-family="Liberation Serif" transform="translate(316.4,1106.85) scale(1.2708,1)" font-size="34.85" font-style="normal" font-weight="normal" fill="#000">/</text>
<text font-family="Liberation Serif" transform="translate(325.52,1107.2) scale(0.9767,1)" font-size="33.33" font-style="italic" font-weight="normal" fill="#000">k</text>
<text font-family="Liberation Serif" transform="translate(340.03,1116.33) scale(1.0298,1)" font-size="23.58" font-style="normal" font-weight="normal" fill="#000">0</text></svg></body></html>
